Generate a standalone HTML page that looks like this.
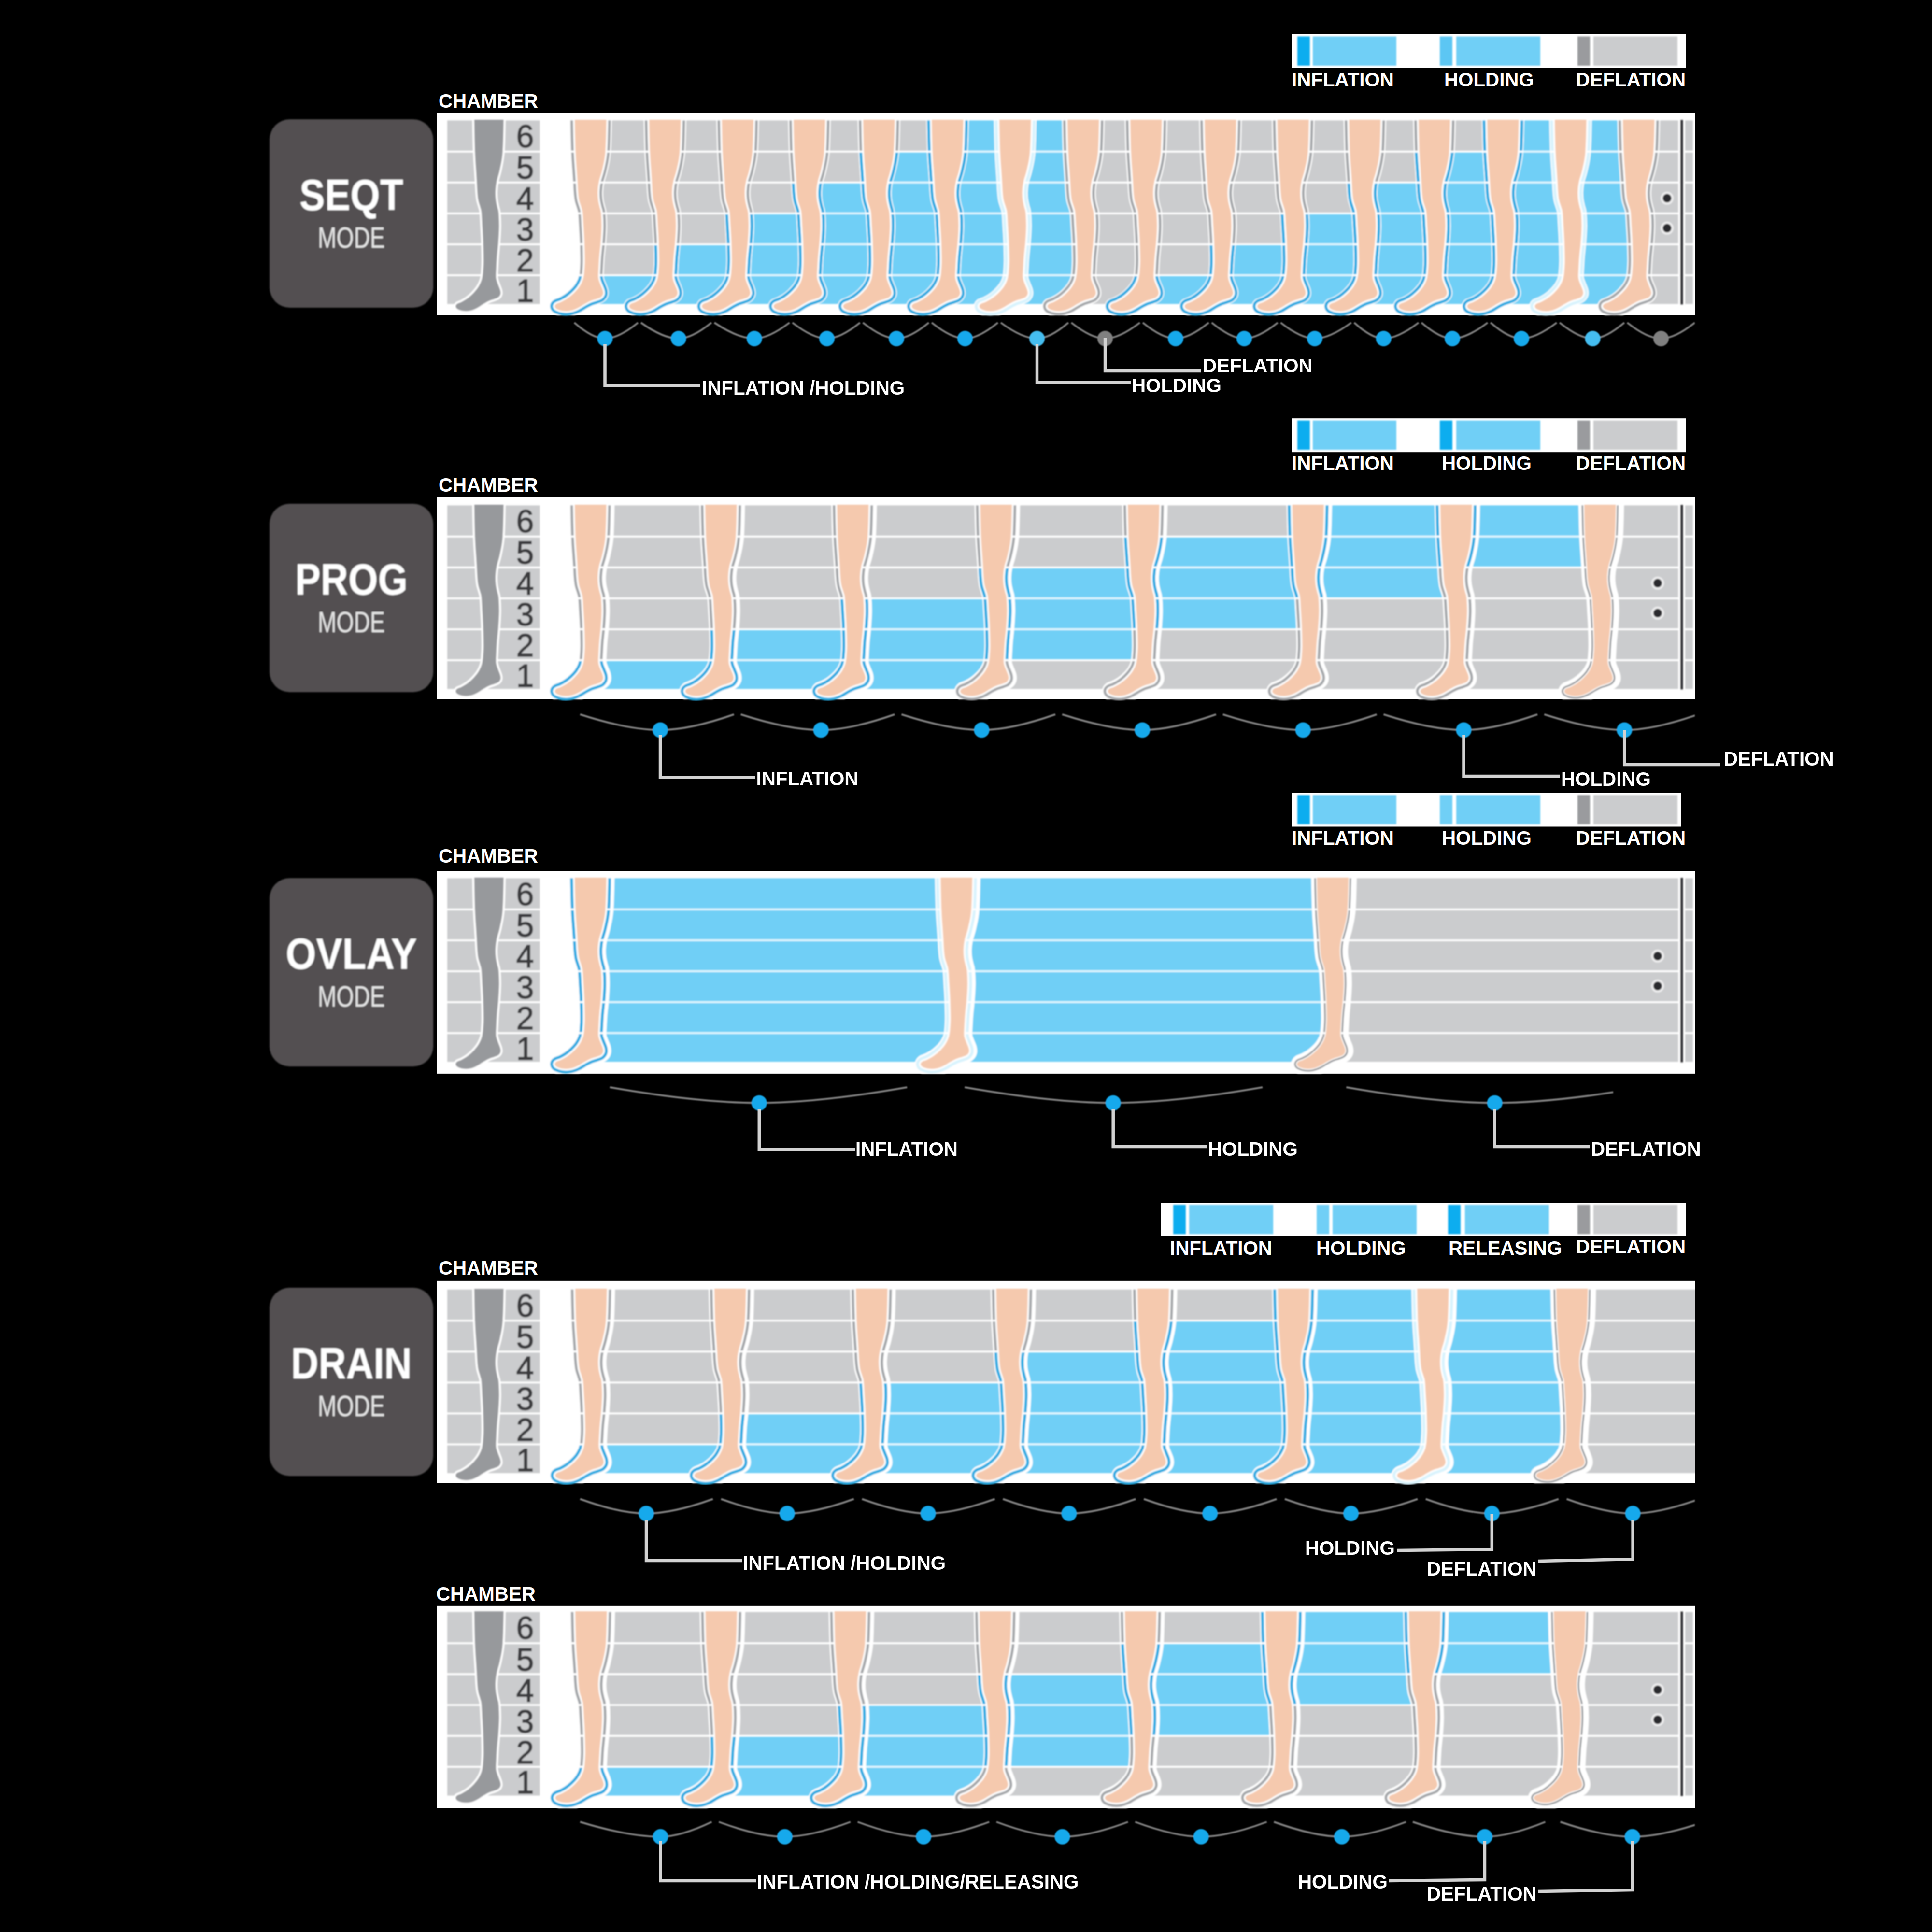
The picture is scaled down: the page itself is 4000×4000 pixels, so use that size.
<!DOCTYPE html>
<html lang="en"><head><meta charset="utf-8"><title>Compression modes</title>
<style>
html,body{margin:0;padding:0;background:#000;}
body{width:4000px;height:4000px;overflow:hidden;}
svg{display:block;}
text{font-family:"Liberation Sans",Arial,Helvetica,sans-serif;}
.lb{font-weight:700;font-size:40.3px;fill:#fff;}
.num{font-size:66px;fill:#3a3a3c;stroke:#3a3a3c;stroke-width:1.3px;text-anchor:middle;}
.big{font-weight:700;font-size:90px;fill:#fff;}
.mode{font-size:62px;fill:#e6e6e6;}
</style></head><body>
<svg width="4000" height="4000" viewBox="0 0 4000 4000">
<defs>
<path id="leg" d="M0.0 -40.0 L0.0 0.0C0.3 16.2 1.0 49.8 1.7 67.0C2.4 84.2 3.3 92.8 4.0 103.0C4.7 113.2 5.2 120.5 5.7 128.0C6.2 135.5 6.3 141.7 6.8 148.0C7.3 154.3 7.8 160.5 8.9 166.0C10.0 171.5 12.3 176.7 13.5 181.0C14.7 185.3 15.4 185.3 16.2 192.0C16.9 198.7 17.4 210.8 18.0 221.0C18.6 231.2 19.4 241.0 19.8 253.0C20.2 265.0 20.8 282.7 20.7 293.0C20.6 303.3 19.9 309.5 19.5 315.0C19.1 320.5 18.8 322.4 18.0 326.0C17.2 329.6 16.4 332.8 14.6 336.5C12.8 340.2 10.5 344.5 7.5 348.5C4.5 352.5 0.4 356.8 -3.5 360.5C-7.4 364.2 -11.8 367.7 -16.0 370.5C-20.2 373.3 -24.8 375.7 -28.5 377.5C-32.2 379.3 -36.4 379.9 -38.5 381.5C-40.6 383.1 -41.5 385.1 -41.3 386.8C-41.0 388.6 -39.8 390.5 -37.0 392.0C-34.2 393.5 -29.2 395.2 -24.5 395.8C-19.8 396.4 -14.1 396.3 -9.0 395.3C-3.9 394.3 0.9 392.4 5.9 390.0C10.9 387.6 16.2 383.7 20.8 381.2C25.4 378.7 29.1 376.7 33.2 375.0C37.3 373.3 42.1 372.3 45.6 371.0C49.1 369.7 52.4 368.7 54.5 367.0C56.6 365.3 57.9 363.2 58.5 361.0C59.1 358.8 58.8 356.7 58.0 353.5C57.2 350.3 54.8 345.4 53.5 342.0C52.2 338.6 50.8 335.8 50.0 333.0C49.2 330.2 48.7 328.7 48.5 325.0C48.3 321.3 48.6 317.8 49.0 311.0C49.4 304.2 49.8 293.7 50.6 284.0C51.4 274.3 52.9 263.5 53.7 253.0C54.5 242.5 55.4 231.2 55.5 221.0C55.6 210.8 54.9 198.7 54.2 192.0C53.5 185.3 52.5 185.3 51.5 181.0C50.5 176.7 49.0 171.5 48.3 166.0C47.6 160.5 47.2 154.3 47.5 148.0C47.8 141.7 48.4 135.5 50.0 128.0C51.6 120.5 54.8 113.2 57.0 103.0C59.2 92.8 61.9 84.2 63.3 67.0C64.7 49.8 65.1 16.2 65.5 0.0L65.5 -40.0 Z"/>
<filter id="soft" x="-2%" y="-5%" width="104%" height="110%"><feGaussianBlur stdDeviation="1.4"/></filter>
<filter id="soft2" x="-2%" y="-40%" width="104%" height="180%"><feGaussianBlur stdDeviation="1.2"/></filter>
<clipPath id="legtop"><rect x="-120" y="0" width="300" height="440"/></clipPath>
<clipPath id="pclip"><rect x="0" y="0" width="2605" height="422"/></clipPath>
<clipPath id="r6"><rect x="-120" y="1.5" width="300" height="62.5"/></clipPath>
<clipPath id="r5"><rect x="-120" y="68.0" width="300" height="60.0"/></clipPath>
<clipPath id="r4"><rect x="-120" y="132.0" width="300" height="60.0"/></clipPath>
<clipPath id="r3"><rect x="-120" y="196.0" width="300" height="60.0"/></clipPath>
<clipPath id="r2"><rect x="-120" y="260.0" width="300" height="60.0"/></clipPath>
<clipPath id="r1"><rect x="-120" y="324.0" width="300" height="100.0"/></clipPath>
</defs>
<rect width="4000" height="4000" fill="#000"/>
<clipPath id="pagec"><rect x="0" y="0" width="3509" height="4000"/></clipPath><clipPath id="pagec3"><rect x="0" y="0" width="3340" height="4000"/></clipPath>
<rect x="2674" y="71.0" width="816" height="70" fill="#fff"/>
<g filter="url(#soft)">
<rect x="2686.0" y="75.5" width="26" height="60.5" fill="#0cadef"/>
<rect x="2718.0" y="75.5" width="173.0" height="60.5" fill="#70cff6"/>
<rect x="2981.0" y="75.5" width="26" height="60.5" fill="#5cc6f3"/>
<rect x="3015.0" y="75.5" width="174.0" height="60.5" fill="#70cff6"/>
<rect x="3266.0" y="75.5" width="26" height="60.5" fill="#9a9b9e"/>
<rect x="3299.0" y="75.5" width="174.0" height="60.5" fill="#cbccce"/>
</g>
<text class="lb" x="2674.0" y="179.0" text-anchor="start">INFLATION</text>
<text class="lb" x="2990.0" y="179.0" text-anchor="start">HOLDING</text>
<text class="lb" x="3490.0" y="179.0" text-anchor="end">DEFLATION</text>
<text class="lb" x="908.0" y="223.0" text-anchor="start">CHAMBER</text>
<g filter="url(#soft)">
<rect x="558" y="247" width="339" height="390" rx="42" fill="#525051"/>
<text class="big" x="727.5" y="435" text-anchor="middle" textLength="215" lengthAdjust="spacingAndGlyphs">SEQT</text>
<text class="mode" x="727.5" y="513" text-anchor="middle" textLength="139" lengthAdjust="spacingAndGlyphs">MODE</text>
</g>
<g transform="translate(904,233.85)">
<rect width="2605" height="419" fill="#fff"/>
<clipPath id="h1"><rect x="-120" y="0" width="300" height="405.0"/></clipPath>
<g clip-path="url(#pclip)"><g filter="url(#soft)"><g transform="translate(0,-2.0)">
<rect x="22" y="17.5" width="191.5" height="62.5" fill="#cbccce"/>
<rect x="22" y="84.0" width="191.5" height="60.0" fill="#cbccce"/>
<rect x="22" y="148.0" width="191.5" height="60.0" fill="#cbccce"/>
<rect x="22" y="212.0" width="191.5" height="60.0" fill="#cbccce"/>
<rect x="22" y="276.0" width="191.5" height="60.0" fill="#cbccce"/>
<rect x="22" y="340.0" width="191.5" height="57.5" fill="#cbccce"/>
<g transform="translate(75.5,16.0)"><g clip-path="url(#legtop)">
<g transform="translate(33,0) scale(0.93,1) translate(-33,0)"><use href="#leg" fill="#97999c" stroke="#fff" stroke-width="9" paint-order="stroke"/></g>
</g></g>
<text class="num" x="183" y="73.2">6</text>
<text class="num" x="183" y="138.5">5</text>
<text class="num" x="183" y="202.5">4</text>
<text class="num" x="183" y="266.5">3</text>
<text class="num" x="183" y="330.5">2</text>
<text class="num" x="183" y="393.2">1</text>
<rect x="316.0" y="17.5" width="154.0" height="62.5" fill="#cbccce"/>
<rect x="316.0" y="84.0" width="154.0" height="60.0" fill="#cbccce"/>
<rect x="316.0" y="148.0" width="154.0" height="60.0" fill="#cbccce"/>
<rect x="316.0" y="212.0" width="154.0" height="60.0" fill="#cbccce"/>
<rect x="316.0" y="276.0" width="154.0" height="60.0" fill="#cbccce"/>
<rect x="316.0" y="340.0" width="154.0" height="57.5" fill="#70cff6"/>
<rect x="470.0" y="17.5" width="150.5" height="62.5" fill="#cbccce"/>
<rect x="470.0" y="84.0" width="150.5" height="60.0" fill="#cbccce"/>
<rect x="470.0" y="148.0" width="150.5" height="60.0" fill="#cbccce"/>
<rect x="470.0" y="212.0" width="150.5" height="60.0" fill="#cbccce"/>
<rect x="470.0" y="276.0" width="150.5" height="60.0" fill="#70cff6"/>
<rect x="470.0" y="336.0" width="150.5" height="4.0" fill="#e0f6fe"/>
<rect x="470.0" y="340.0" width="150.5" height="57.5" fill="#70cff6"/>
<rect x="620.5" y="17.5" width="148.5" height="62.5" fill="#cbccce"/>
<rect x="620.5" y="84.0" width="148.5" height="60.0" fill="#cbccce"/>
<rect x="620.5" y="148.0" width="148.5" height="60.0" fill="#cbccce"/>
<rect x="620.5" y="212.0" width="148.5" height="60.0" fill="#70cff6"/>
<rect x="620.5" y="272.0" width="148.5" height="4.0" fill="#e0f6fe"/>
<rect x="620.5" y="276.0" width="148.5" height="60.0" fill="#70cff6"/>
<rect x="620.5" y="336.0" width="148.5" height="4.0" fill="#e0f6fe"/>
<rect x="620.5" y="340.0" width="148.5" height="57.5" fill="#70cff6"/>
<rect x="769.0" y="17.5" width="144.0" height="62.5" fill="#cbccce"/>
<rect x="769.0" y="84.0" width="144.0" height="60.0" fill="#cbccce"/>
<rect x="769.0" y="148.0" width="144.0" height="60.0" fill="#70cff6"/>
<rect x="769.0" y="208.0" width="144.0" height="4.0" fill="#e0f6fe"/>
<rect x="769.0" y="212.0" width="144.0" height="60.0" fill="#70cff6"/>
<rect x="769.0" y="272.0" width="144.0" height="4.0" fill="#e0f6fe"/>
<rect x="769.0" y="276.0" width="144.0" height="60.0" fill="#70cff6"/>
<rect x="769.0" y="336.0" width="144.0" height="4.0" fill="#e0f6fe"/>
<rect x="769.0" y="340.0" width="144.0" height="57.5" fill="#70cff6"/>
<rect x="913.0" y="17.5" width="142.0" height="62.5" fill="#cbccce"/>
<rect x="913.0" y="84.0" width="142.0" height="60.0" fill="#70cff6"/>
<rect x="913.0" y="144.0" width="142.0" height="4.0" fill="#e0f6fe"/>
<rect x="913.0" y="148.0" width="142.0" height="60.0" fill="#70cff6"/>
<rect x="913.0" y="208.0" width="142.0" height="4.0" fill="#e0f6fe"/>
<rect x="913.0" y="212.0" width="142.0" height="60.0" fill="#70cff6"/>
<rect x="913.0" y="272.0" width="142.0" height="4.0" fill="#e0f6fe"/>
<rect x="913.0" y="276.0" width="142.0" height="60.0" fill="#70cff6"/>
<rect x="913.0" y="336.0" width="142.0" height="4.0" fill="#e0f6fe"/>
<rect x="913.0" y="340.0" width="142.0" height="57.5" fill="#70cff6"/>
<rect x="1055.0" y="17.5" width="140.0" height="62.5" fill="#70cff6"/>
<rect x="1055.0" y="80.0" width="140.0" height="4.0" fill="#e0f6fe"/>
<rect x="1055.0" y="84.0" width="140.0" height="60.0" fill="#70cff6"/>
<rect x="1055.0" y="144.0" width="140.0" height="4.0" fill="#e0f6fe"/>
<rect x="1055.0" y="148.0" width="140.0" height="60.0" fill="#70cff6"/>
<rect x="1055.0" y="208.0" width="140.0" height="4.0" fill="#e0f6fe"/>
<rect x="1055.0" y="212.0" width="140.0" height="60.0" fill="#70cff6"/>
<rect x="1055.0" y="272.0" width="140.0" height="4.0" fill="#e0f6fe"/>
<rect x="1055.0" y="276.0" width="140.0" height="60.0" fill="#70cff6"/>
<rect x="1055.0" y="336.0" width="140.0" height="4.0" fill="#e0f6fe"/>
<rect x="1055.0" y="340.0" width="140.0" height="57.5" fill="#70cff6"/>
<rect x="1195.0" y="17.5" width="141.0" height="62.5" fill="#70cff6"/>
<rect x="1195.0" y="80.0" width="141.0" height="4.0" fill="#e0f6fe"/>
<rect x="1195.0" y="84.0" width="141.0" height="60.0" fill="#70cff6"/>
<rect x="1195.0" y="144.0" width="141.0" height="4.0" fill="#e0f6fe"/>
<rect x="1195.0" y="148.0" width="141.0" height="60.0" fill="#70cff6"/>
<rect x="1195.0" y="208.0" width="141.0" height="4.0" fill="#e0f6fe"/>
<rect x="1195.0" y="212.0" width="141.0" height="60.0" fill="#70cff6"/>
<rect x="1195.0" y="272.0" width="141.0" height="4.0" fill="#e0f6fe"/>
<rect x="1195.0" y="276.0" width="141.0" height="60.0" fill="#70cff6"/>
<rect x="1195.0" y="336.0" width="141.0" height="4.0" fill="#e0f6fe"/>
<rect x="1195.0" y="340.0" width="141.0" height="57.5" fill="#70cff6"/>
<rect x="1336.0" y="17.5" width="130.0" height="62.5" fill="#cbccce"/>
<rect x="1336.0" y="84.0" width="130.0" height="60.0" fill="#cbccce"/>
<rect x="1336.0" y="148.0" width="130.0" height="60.0" fill="#cbccce"/>
<rect x="1336.0" y="212.0" width="130.0" height="60.0" fill="#cbccce"/>
<rect x="1336.0" y="276.0" width="130.0" height="60.0" fill="#cbccce"/>
<rect x="1336.0" y="340.0" width="130.0" height="57.5" fill="#cbccce"/>
<rect x="1466.0" y="17.5" width="154.0" height="62.5" fill="#cbccce"/>
<rect x="1466.0" y="84.0" width="154.0" height="60.0" fill="#cbccce"/>
<rect x="1466.0" y="148.0" width="154.0" height="60.0" fill="#cbccce"/>
<rect x="1466.0" y="212.0" width="154.0" height="60.0" fill="#cbccce"/>
<rect x="1466.0" y="276.0" width="154.0" height="60.0" fill="#cbccce"/>
<rect x="1466.0" y="340.0" width="154.0" height="57.5" fill="#70cff6"/>
<rect x="1620.0" y="17.5" width="150.5" height="62.5" fill="#cbccce"/>
<rect x="1620.0" y="84.0" width="150.5" height="60.0" fill="#cbccce"/>
<rect x="1620.0" y="148.0" width="150.5" height="60.0" fill="#cbccce"/>
<rect x="1620.0" y="212.0" width="150.5" height="60.0" fill="#cbccce"/>
<rect x="1620.0" y="276.0" width="150.5" height="60.0" fill="#70cff6"/>
<rect x="1620.0" y="336.0" width="150.5" height="4.0" fill="#e0f6fe"/>
<rect x="1620.0" y="340.0" width="150.5" height="57.5" fill="#70cff6"/>
<rect x="1770.5" y="17.5" width="148.5" height="62.5" fill="#cbccce"/>
<rect x="1770.5" y="84.0" width="148.5" height="60.0" fill="#cbccce"/>
<rect x="1770.5" y="148.0" width="148.5" height="60.0" fill="#cbccce"/>
<rect x="1770.5" y="212.0" width="148.5" height="60.0" fill="#70cff6"/>
<rect x="1770.5" y="272.0" width="148.5" height="4.0" fill="#e0f6fe"/>
<rect x="1770.5" y="276.0" width="148.5" height="60.0" fill="#70cff6"/>
<rect x="1770.5" y="336.0" width="148.5" height="4.0" fill="#e0f6fe"/>
<rect x="1770.5" y="340.0" width="148.5" height="57.5" fill="#70cff6"/>
<rect x="1919.0" y="17.5" width="144.0" height="62.5" fill="#cbccce"/>
<rect x="1919.0" y="84.0" width="144.0" height="60.0" fill="#cbccce"/>
<rect x="1919.0" y="148.0" width="144.0" height="60.0" fill="#70cff6"/>
<rect x="1919.0" y="208.0" width="144.0" height="4.0" fill="#e0f6fe"/>
<rect x="1919.0" y="212.0" width="144.0" height="60.0" fill="#70cff6"/>
<rect x="1919.0" y="272.0" width="144.0" height="4.0" fill="#e0f6fe"/>
<rect x="1919.0" y="276.0" width="144.0" height="60.0" fill="#70cff6"/>
<rect x="1919.0" y="336.0" width="144.0" height="4.0" fill="#e0f6fe"/>
<rect x="1919.0" y="340.0" width="144.0" height="57.5" fill="#70cff6"/>
<rect x="2063.0" y="17.5" width="142.0" height="62.5" fill="#cbccce"/>
<rect x="2063.0" y="84.0" width="142.0" height="60.0" fill="#70cff6"/>
<rect x="2063.0" y="144.0" width="142.0" height="4.0" fill="#e0f6fe"/>
<rect x="2063.0" y="148.0" width="142.0" height="60.0" fill="#70cff6"/>
<rect x="2063.0" y="208.0" width="142.0" height="4.0" fill="#e0f6fe"/>
<rect x="2063.0" y="212.0" width="142.0" height="60.0" fill="#70cff6"/>
<rect x="2063.0" y="272.0" width="142.0" height="4.0" fill="#e0f6fe"/>
<rect x="2063.0" y="276.0" width="142.0" height="60.0" fill="#70cff6"/>
<rect x="2063.0" y="336.0" width="142.0" height="4.0" fill="#e0f6fe"/>
<rect x="2063.0" y="340.0" width="142.0" height="57.5" fill="#70cff6"/>
<rect x="2205.0" y="17.5" width="140.0" height="62.5" fill="#70cff6"/>
<rect x="2205.0" y="80.0" width="140.0" height="4.0" fill="#e0f6fe"/>
<rect x="2205.0" y="84.0" width="140.0" height="60.0" fill="#70cff6"/>
<rect x="2205.0" y="144.0" width="140.0" height="4.0" fill="#e0f6fe"/>
<rect x="2205.0" y="148.0" width="140.0" height="60.0" fill="#70cff6"/>
<rect x="2205.0" y="208.0" width="140.0" height="4.0" fill="#e0f6fe"/>
<rect x="2205.0" y="212.0" width="140.0" height="60.0" fill="#70cff6"/>
<rect x="2205.0" y="272.0" width="140.0" height="4.0" fill="#e0f6fe"/>
<rect x="2205.0" y="276.0" width="140.0" height="60.0" fill="#70cff6"/>
<rect x="2205.0" y="336.0" width="140.0" height="4.0" fill="#e0f6fe"/>
<rect x="2205.0" y="340.0" width="140.0" height="57.5" fill="#70cff6"/>
<rect x="2345.0" y="17.5" width="141.0" height="62.5" fill="#70cff6"/>
<rect x="2345.0" y="80.0" width="141.0" height="4.0" fill="#e0f6fe"/>
<rect x="2345.0" y="84.0" width="141.0" height="60.0" fill="#70cff6"/>
<rect x="2345.0" y="144.0" width="141.0" height="4.0" fill="#e0f6fe"/>
<rect x="2345.0" y="148.0" width="141.0" height="60.0" fill="#70cff6"/>
<rect x="2345.0" y="208.0" width="141.0" height="4.0" fill="#e0f6fe"/>
<rect x="2345.0" y="212.0" width="141.0" height="60.0" fill="#70cff6"/>
<rect x="2345.0" y="272.0" width="141.0" height="4.0" fill="#e0f6fe"/>
<rect x="2345.0" y="276.0" width="141.0" height="60.0" fill="#70cff6"/>
<rect x="2345.0" y="336.0" width="141.0" height="4.0" fill="#e0f6fe"/>
<rect x="2345.0" y="340.0" width="141.0" height="57.5" fill="#70cff6"/>
<rect x="2486.0" y="17.5" width="84.5" height="62.5" fill="#cbccce"/>
<rect x="2486.0" y="84.0" width="84.5" height="60.0" fill="#cbccce"/>
<rect x="2486.0" y="148.0" width="84.5" height="60.0" fill="#cbccce"/>
<rect x="2486.0" y="212.0" width="84.5" height="60.0" fill="#cbccce"/>
<rect x="2486.0" y="276.0" width="84.5" height="60.0" fill="#cbccce"/>
<rect x="2486.0" y="340.0" width="84.5" height="57.5" fill="#cbccce"/>
<rect x="2575.5" y="16.5" width="5" height="382.0" fill="#2b2b2d"/>
<rect x="2585" y="17.5" width="16" height="62.5" fill="#cbccce"/>
<rect x="2585" y="84.0" width="16" height="60.0" fill="#cbccce"/>
<rect x="2585" y="148.0" width="16" height="60.0" fill="#cbccce"/>
<rect x="2585" y="212.0" width="16" height="60.0" fill="#cbccce"/>
<rect x="2585" y="276.0" width="16" height="60.0" fill="#cbccce"/>
<rect x="2585" y="340.0" width="16" height="57.5" fill="#cbccce"/>
<circle cx="2547.5" cy="178.5" r="13.5" fill="#ededee"/><circle cx="2547.5" cy="178.5" r="9" fill="#2b2b2d"/>
<circle cx="2547.5" cy="240.5" r="13.5" fill="#ededee"/><circle cx="2547.5" cy="240.5" r="9" fill="#2b2b2d"/>
<g transform="translate(286.0,16.0)"><g clip-path="url(#legtop)">
<use href="#leg" fill="#fff" stroke="#fff" stroke-width="23" clip-path="url(#h1)"/>
<use href="#leg" fill="none" stroke="#a3a5a8" stroke-width="18" clip-path="url(#r6)"/>
<use href="#leg" fill="none" stroke="#a3a5a8" stroke-width="18" clip-path="url(#r5)"/>
<use href="#leg" fill="none" stroke="#a3a5a8" stroke-width="18" clip-path="url(#r4)"/>
<use href="#leg" fill="none" stroke="#a3a5a8" stroke-width="18" clip-path="url(#r3)"/>
<use href="#leg" fill="none" stroke="#a3a5a8" stroke-width="18" clip-path="url(#r2)"/>
<use href="#leg" fill="none" stroke="#27aae1" stroke-width="19" clip-path="url(#r1)"/>
<use href="#leg" fill="none" stroke="#fff" stroke-width="7.5"/>
<use href="#leg" fill="#f5c9ae"/>
</g></g>
<g transform="translate(440.0,16.0)"><g clip-path="url(#legtop)">
<use href="#leg" fill="#fff" stroke="#fff" stroke-width="23" clip-path="url(#h1)"/>
<use href="#leg" fill="none" stroke="#a3a5a8" stroke-width="18" clip-path="url(#r6)"/>
<use href="#leg" fill="none" stroke="#a3a5a8" stroke-width="18" clip-path="url(#r5)"/>
<use href="#leg" fill="none" stroke="#a3a5a8" stroke-width="18" clip-path="url(#r4)"/>
<use href="#leg" fill="none" stroke="#a3a5a8" stroke-width="18" clip-path="url(#r3)"/>
<use href="#leg" fill="none" stroke="#27aae1" stroke-width="19" clip-path="url(#r2)"/>
<use href="#leg" fill="none" stroke="#27aae1" stroke-width="19" clip-path="url(#r1)"/>
<use href="#leg" fill="none" stroke="#fff" stroke-width="7.5"/>
<use href="#leg" fill="#f5c9ae"/>
</g></g>
<g transform="translate(590.5,16.0)"><g clip-path="url(#legtop)">
<use href="#leg" fill="#fff" stroke="#fff" stroke-width="23" clip-path="url(#h1)"/>
<use href="#leg" fill="none" stroke="#a3a5a8" stroke-width="18" clip-path="url(#r6)"/>
<use href="#leg" fill="none" stroke="#a3a5a8" stroke-width="18" clip-path="url(#r5)"/>
<use href="#leg" fill="none" stroke="#a3a5a8" stroke-width="18" clip-path="url(#r4)"/>
<use href="#leg" fill="none" stroke="#27aae1" stroke-width="19" clip-path="url(#r3)"/>
<use href="#leg" fill="none" stroke="#27aae1" stroke-width="19" clip-path="url(#r2)"/>
<use href="#leg" fill="none" stroke="#27aae1" stroke-width="19" clip-path="url(#r1)"/>
<use href="#leg" fill="none" stroke="#fff" stroke-width="7.5"/>
<use href="#leg" fill="#f5c9ae"/>
</g></g>
<g transform="translate(739.0,16.0)"><g clip-path="url(#legtop)">
<use href="#leg" fill="#fff" stroke="#fff" stroke-width="23" clip-path="url(#h1)"/>
<use href="#leg" fill="none" stroke="#a3a5a8" stroke-width="18" clip-path="url(#r6)"/>
<use href="#leg" fill="none" stroke="#a3a5a8" stroke-width="18" clip-path="url(#r5)"/>
<use href="#leg" fill="none" stroke="#27aae1" stroke-width="19" clip-path="url(#r4)"/>
<use href="#leg" fill="none" stroke="#27aae1" stroke-width="19" clip-path="url(#r3)"/>
<use href="#leg" fill="none" stroke="#27aae1" stroke-width="19" clip-path="url(#r2)"/>
<use href="#leg" fill="none" stroke="#27aae1" stroke-width="19" clip-path="url(#r1)"/>
<use href="#leg" fill="none" stroke="#fff" stroke-width="7.5"/>
<use href="#leg" fill="#f5c9ae"/>
</g></g>
<g transform="translate(883.0,16.0)"><g clip-path="url(#legtop)">
<use href="#leg" fill="#fff" stroke="#fff" stroke-width="23" clip-path="url(#h1)"/>
<use href="#leg" fill="none" stroke="#a3a5a8" stroke-width="18" clip-path="url(#r6)"/>
<use href="#leg" fill="none" stroke="#27aae1" stroke-width="19" clip-path="url(#r5)"/>
<use href="#leg" fill="none" stroke="#27aae1" stroke-width="19" clip-path="url(#r4)"/>
<use href="#leg" fill="none" stroke="#27aae1" stroke-width="19" clip-path="url(#r3)"/>
<use href="#leg" fill="none" stroke="#27aae1" stroke-width="19" clip-path="url(#r2)"/>
<use href="#leg" fill="none" stroke="#27aae1" stroke-width="19" clip-path="url(#r1)"/>
<use href="#leg" fill="none" stroke="#fff" stroke-width="7.5"/>
<use href="#leg" fill="#f5c9ae"/>
</g></g>
<g transform="translate(1025.0,16.0)"><g clip-path="url(#legtop)">
<use href="#leg" fill="#fff" stroke="#fff" stroke-width="23" clip-path="url(#h1)"/>
<use href="#leg" fill="none" stroke="#27aae1" stroke-width="19" clip-path="url(#r6)"/>
<use href="#leg" fill="none" stroke="#27aae1" stroke-width="19" clip-path="url(#r5)"/>
<use href="#leg" fill="none" stroke="#27aae1" stroke-width="19" clip-path="url(#r4)"/>
<use href="#leg" fill="none" stroke="#27aae1" stroke-width="19" clip-path="url(#r3)"/>
<use href="#leg" fill="none" stroke="#27aae1" stroke-width="19" clip-path="url(#r2)"/>
<use href="#leg" fill="none" stroke="#27aae1" stroke-width="19" clip-path="url(#r1)"/>
<use href="#leg" fill="none" stroke="#fff" stroke-width="7.5"/>
<use href="#leg" fill="#f5c9ae"/>
</g></g>
<g transform="translate(1165.0,16.0)"><g clip-path="url(#legtop)">
<use href="#leg" fill="#fff" stroke="#fff" stroke-width="23" clip-path="url(#h1)"/>
<use href="#leg" fill="none" stroke="#d8f3fd" stroke-width="19" clip-path="url(#r6)"/>
<use href="#leg" fill="none" stroke="#d8f3fd" stroke-width="19" clip-path="url(#r5)"/>
<use href="#leg" fill="none" stroke="#d8f3fd" stroke-width="19" clip-path="url(#r4)"/>
<use href="#leg" fill="none" stroke="#d8f3fd" stroke-width="19" clip-path="url(#r3)"/>
<use href="#leg" fill="none" stroke="#d8f3fd" stroke-width="19" clip-path="url(#r2)"/>
<use href="#leg" fill="none" stroke="#d8f3fd" stroke-width="19" clip-path="url(#r1)"/>
<use href="#leg" fill="none" stroke="#fff" stroke-width="7.5"/>
<use href="#leg" fill="#f5c9ae"/>
</g></g>
<g transform="translate(1306.0,16.0)"><g clip-path="url(#legtop)">
<use href="#leg" fill="#fff" stroke="#fff" stroke-width="23" clip-path="url(#h1)"/>
<use href="#leg" fill="none" stroke="#a3a5a8" stroke-width="18" clip-path="url(#r6)"/>
<use href="#leg" fill="none" stroke="#a3a5a8" stroke-width="18" clip-path="url(#r5)"/>
<use href="#leg" fill="none" stroke="#a3a5a8" stroke-width="18" clip-path="url(#r4)"/>
<use href="#leg" fill="none" stroke="#a3a5a8" stroke-width="18" clip-path="url(#r3)"/>
<use href="#leg" fill="none" stroke="#a3a5a8" stroke-width="18" clip-path="url(#r2)"/>
<use href="#leg" fill="none" stroke="#a3a5a8" stroke-width="18" clip-path="url(#r1)"/>
<use href="#leg" fill="none" stroke="#fff" stroke-width="7.5"/>
<use href="#leg" fill="#f5c9ae"/>
</g></g>
<g transform="translate(1436.0,16.0)"><g clip-path="url(#legtop)">
<use href="#leg" fill="#fff" stroke="#fff" stroke-width="23" clip-path="url(#h1)"/>
<use href="#leg" fill="none" stroke="#a3a5a8" stroke-width="18" clip-path="url(#r6)"/>
<use href="#leg" fill="none" stroke="#a3a5a8" stroke-width="18" clip-path="url(#r5)"/>
<use href="#leg" fill="none" stroke="#a3a5a8" stroke-width="18" clip-path="url(#r4)"/>
<use href="#leg" fill="none" stroke="#a3a5a8" stroke-width="18" clip-path="url(#r3)"/>
<use href="#leg" fill="none" stroke="#a3a5a8" stroke-width="18" clip-path="url(#r2)"/>
<use href="#leg" fill="none" stroke="#27aae1" stroke-width="19" clip-path="url(#r1)"/>
<use href="#leg" fill="none" stroke="#fff" stroke-width="7.5"/>
<use href="#leg" fill="#f5c9ae"/>
</g></g>
<g transform="translate(1590.0,16.0)"><g clip-path="url(#legtop)">
<use href="#leg" fill="#fff" stroke="#fff" stroke-width="23" clip-path="url(#h1)"/>
<use href="#leg" fill="none" stroke="#a3a5a8" stroke-width="18" clip-path="url(#r6)"/>
<use href="#leg" fill="none" stroke="#a3a5a8" stroke-width="18" clip-path="url(#r5)"/>
<use href="#leg" fill="none" stroke="#a3a5a8" stroke-width="18" clip-path="url(#r4)"/>
<use href="#leg" fill="none" stroke="#a3a5a8" stroke-width="18" clip-path="url(#r3)"/>
<use href="#leg" fill="none" stroke="#27aae1" stroke-width="19" clip-path="url(#r2)"/>
<use href="#leg" fill="none" stroke="#27aae1" stroke-width="19" clip-path="url(#r1)"/>
<use href="#leg" fill="none" stroke="#fff" stroke-width="7.5"/>
<use href="#leg" fill="#f5c9ae"/>
</g></g>
<g transform="translate(1740.5,16.0)"><g clip-path="url(#legtop)">
<use href="#leg" fill="#fff" stroke="#fff" stroke-width="23" clip-path="url(#h1)"/>
<use href="#leg" fill="none" stroke="#a3a5a8" stroke-width="18" clip-path="url(#r6)"/>
<use href="#leg" fill="none" stroke="#a3a5a8" stroke-width="18" clip-path="url(#r5)"/>
<use href="#leg" fill="none" stroke="#a3a5a8" stroke-width="18" clip-path="url(#r4)"/>
<use href="#leg" fill="none" stroke="#27aae1" stroke-width="19" clip-path="url(#r3)"/>
<use href="#leg" fill="none" stroke="#27aae1" stroke-width="19" clip-path="url(#r2)"/>
<use href="#leg" fill="none" stroke="#27aae1" stroke-width="19" clip-path="url(#r1)"/>
<use href="#leg" fill="none" stroke="#fff" stroke-width="7.5"/>
<use href="#leg" fill="#f5c9ae"/>
</g></g>
<g transform="translate(1889.0,16.0)"><g clip-path="url(#legtop)">
<use href="#leg" fill="#fff" stroke="#fff" stroke-width="23" clip-path="url(#h1)"/>
<use href="#leg" fill="none" stroke="#a3a5a8" stroke-width="18" clip-path="url(#r6)"/>
<use href="#leg" fill="none" stroke="#a3a5a8" stroke-width="18" clip-path="url(#r5)"/>
<use href="#leg" fill="none" stroke="#27aae1" stroke-width="19" clip-path="url(#r4)"/>
<use href="#leg" fill="none" stroke="#27aae1" stroke-width="19" clip-path="url(#r3)"/>
<use href="#leg" fill="none" stroke="#27aae1" stroke-width="19" clip-path="url(#r2)"/>
<use href="#leg" fill="none" stroke="#27aae1" stroke-width="19" clip-path="url(#r1)"/>
<use href="#leg" fill="none" stroke="#fff" stroke-width="7.5"/>
<use href="#leg" fill="#f5c9ae"/>
</g></g>
<g transform="translate(2033.0,16.0)"><g clip-path="url(#legtop)">
<use href="#leg" fill="#fff" stroke="#fff" stroke-width="23" clip-path="url(#h1)"/>
<use href="#leg" fill="none" stroke="#a3a5a8" stroke-width="18" clip-path="url(#r6)"/>
<use href="#leg" fill="none" stroke="#27aae1" stroke-width="19" clip-path="url(#r5)"/>
<use href="#leg" fill="none" stroke="#27aae1" stroke-width="19" clip-path="url(#r4)"/>
<use href="#leg" fill="none" stroke="#27aae1" stroke-width="19" clip-path="url(#r3)"/>
<use href="#leg" fill="none" stroke="#27aae1" stroke-width="19" clip-path="url(#r2)"/>
<use href="#leg" fill="none" stroke="#27aae1" stroke-width="19" clip-path="url(#r1)"/>
<use href="#leg" fill="none" stroke="#fff" stroke-width="7.5"/>
<use href="#leg" fill="#f5c9ae"/>
</g></g>
<g transform="translate(2175.0,16.0)"><g clip-path="url(#legtop)">
<use href="#leg" fill="#fff" stroke="#fff" stroke-width="23" clip-path="url(#h1)"/>
<use href="#leg" fill="none" stroke="#27aae1" stroke-width="19" clip-path="url(#r6)"/>
<use href="#leg" fill="none" stroke="#27aae1" stroke-width="19" clip-path="url(#r5)"/>
<use href="#leg" fill="none" stroke="#27aae1" stroke-width="19" clip-path="url(#r4)"/>
<use href="#leg" fill="none" stroke="#27aae1" stroke-width="19" clip-path="url(#r3)"/>
<use href="#leg" fill="none" stroke="#27aae1" stroke-width="19" clip-path="url(#r2)"/>
<use href="#leg" fill="none" stroke="#27aae1" stroke-width="19" clip-path="url(#r1)"/>
<use href="#leg" fill="none" stroke="#fff" stroke-width="7.5"/>
<use href="#leg" fill="#f5c9ae"/>
</g></g>
<g transform="translate(2315.0,16.0)"><g clip-path="url(#legtop)">
<use href="#leg" fill="#fff" stroke="#fff" stroke-width="23" clip-path="url(#h1)"/>
<use href="#leg" fill="none" stroke="#d8f3fd" stroke-width="19" clip-path="url(#r6)"/>
<use href="#leg" fill="none" stroke="#d8f3fd" stroke-width="19" clip-path="url(#r5)"/>
<use href="#leg" fill="none" stroke="#d8f3fd" stroke-width="19" clip-path="url(#r4)"/>
<use href="#leg" fill="none" stroke="#d8f3fd" stroke-width="19" clip-path="url(#r3)"/>
<use href="#leg" fill="none" stroke="#d8f3fd" stroke-width="19" clip-path="url(#r2)"/>
<use href="#leg" fill="none" stroke="#d8f3fd" stroke-width="19" clip-path="url(#r1)"/>
<use href="#leg" fill="none" stroke="#fff" stroke-width="7.5"/>
<use href="#leg" fill="#f5c9ae"/>
</g></g>
<g transform="translate(2456.0,16.0)"><g clip-path="url(#legtop)">
<use href="#leg" fill="#fff" stroke="#fff" stroke-width="23" clip-path="url(#h1)"/>
<use href="#leg" fill="none" stroke="#a3a5a8" stroke-width="18" clip-path="url(#r6)"/>
<use href="#leg" fill="none" stroke="#a3a5a8" stroke-width="18" clip-path="url(#r5)"/>
<use href="#leg" fill="none" stroke="#a3a5a8" stroke-width="18" clip-path="url(#r4)"/>
<use href="#leg" fill="none" stroke="#a3a5a8" stroke-width="18" clip-path="url(#r3)"/>
<use href="#leg" fill="none" stroke="#a3a5a8" stroke-width="18" clip-path="url(#r2)"/>
<use href="#leg" fill="none" stroke="#a3a5a8" stroke-width="18" clip-path="url(#r1)"/>
<use href="#leg" fill="none" stroke="#fff" stroke-width="7.5"/>
<use href="#leg" fill="#f5c9ae"/>
</g></g>
</g></g></g>
</g>
<rect x="2674" y="866.2" width="816" height="70" fill="#fff"/>
<g filter="url(#soft)">
<rect x="2686.0" y="870.7" width="26" height="60.5" fill="#0cadef"/>
<rect x="2718.0" y="870.7" width="173.0" height="60.5" fill="#70cff6"/>
<rect x="2981.0" y="870.7" width="26" height="60.5" fill="#0cadef"/>
<rect x="3015.0" y="870.7" width="174.0" height="60.5" fill="#70cff6"/>
<rect x="3266.0" y="870.7" width="26" height="60.5" fill="#9a9b9e"/>
<rect x="3299.0" y="870.7" width="174.0" height="60.5" fill="#cbccce"/>
</g>
<text class="lb" x="2674.0" y="973.0" text-anchor="start">INFLATION</text>
<text class="lb" x="2985.0" y="973.0" text-anchor="start">HOLDING</text>
<text class="lb" x="3490.0" y="973.0" text-anchor="end">DEFLATION</text>
<text class="lb" x="908.0" y="1018.0" text-anchor="start">CHAMBER</text>
<g filter="url(#soft)">
<rect x="558" y="1043" width="339" height="390" rx="42" fill="#525051"/>
<text class="big" x="727.5" y="1231" text-anchor="middle" textLength="233" lengthAdjust="spacingAndGlyphs">PROG</text>
<text class="mode" x="727.5" y="1309" text-anchor="middle" textLength="139" lengthAdjust="spacingAndGlyphs">MODE</text>
</g>
<g transform="translate(904,1028.85)">
<rect width="2605" height="419" fill="#fff"/>
<clipPath id="h2"><rect x="-120" y="0" width="300" height="403.0"/></clipPath>
<g clip-path="url(#pclip)"><g filter="url(#soft)"><g transform="translate(0,0.0)">
<rect x="22" y="17.5" width="191.5" height="62.5" fill="#cbccce"/>
<rect x="22" y="84.0" width="191.5" height="60.0" fill="#cbccce"/>
<rect x="22" y="148.0" width="191.5" height="60.0" fill="#cbccce"/>
<rect x="22" y="212.0" width="191.5" height="60.0" fill="#cbccce"/>
<rect x="22" y="276.0" width="191.5" height="60.0" fill="#cbccce"/>
<rect x="22" y="340.0" width="191.5" height="57.5" fill="#cbccce"/>
<g transform="translate(75.5,16.0)"><g clip-path="url(#legtop)">
<g transform="translate(33,0) scale(0.93,1) translate(-33,0)"><use href="#leg" fill="#97999c" stroke="#fff" stroke-width="9" paint-order="stroke"/></g>
</g></g>
<text class="num" x="183" y="73.2">6</text>
<text class="num" x="183" y="138.5">5</text>
<text class="num" x="183" y="202.5">4</text>
<text class="num" x="183" y="266.5">3</text>
<text class="num" x="183" y="330.5">2</text>
<text class="num" x="183" y="393.2">1</text>
<rect x="316.0" y="17.5" width="270.0" height="62.5" fill="#cbccce"/>
<rect x="316.0" y="84.0" width="270.0" height="60.0" fill="#cbccce"/>
<rect x="316.0" y="148.0" width="270.0" height="60.0" fill="#cbccce"/>
<rect x="316.0" y="212.0" width="270.0" height="60.0" fill="#cbccce"/>
<rect x="316.0" y="276.0" width="270.0" height="60.0" fill="#cbccce"/>
<rect x="316.0" y="340.0" width="270.0" height="57.5" fill="#70cff6"/>
<rect x="586.0" y="17.5" width="273.0" height="62.5" fill="#cbccce"/>
<rect x="586.0" y="84.0" width="273.0" height="60.0" fill="#cbccce"/>
<rect x="586.0" y="148.0" width="273.0" height="60.0" fill="#cbccce"/>
<rect x="586.0" y="212.0" width="273.0" height="60.0" fill="#cbccce"/>
<rect x="586.0" y="276.0" width="273.0" height="60.0" fill="#70cff6"/>
<rect x="586.0" y="336.0" width="273.0" height="4.0" fill="#e0f6fe"/>
<rect x="586.0" y="340.0" width="273.0" height="57.5" fill="#70cff6"/>
<rect x="859.0" y="17.5" width="296.5" height="62.5" fill="#cbccce"/>
<rect x="859.0" y="84.0" width="296.5" height="60.0" fill="#cbccce"/>
<rect x="859.0" y="148.0" width="296.5" height="60.0" fill="#cbccce"/>
<rect x="859.0" y="212.0" width="296.5" height="60.0" fill="#70cff6"/>
<rect x="859.0" y="272.0" width="296.5" height="4.0" fill="#e0f6fe"/>
<rect x="859.0" y="276.0" width="296.5" height="60.0" fill="#70cff6"/>
<rect x="859.0" y="336.0" width="296.5" height="4.0" fill="#e0f6fe"/>
<rect x="859.0" y="340.0" width="296.5" height="57.5" fill="#70cff6"/>
<rect x="1155.5" y="17.5" width="305.5" height="62.5" fill="#cbccce"/>
<rect x="1155.5" y="84.0" width="305.5" height="60.0" fill="#cbccce"/>
<rect x="1155.5" y="148.0" width="305.5" height="60.0" fill="#70cff6"/>
<rect x="1155.5" y="208.0" width="305.5" height="4.0" fill="#e0f6fe"/>
<rect x="1155.5" y="212.0" width="305.5" height="60.0" fill="#70cff6"/>
<rect x="1155.5" y="272.0" width="305.5" height="4.0" fill="#e0f6fe"/>
<rect x="1155.5" y="276.0" width="305.5" height="60.0" fill="#70cff6"/>
<rect x="1155.5" y="340.0" width="305.5" height="57.5" fill="#cbccce"/>
<rect x="1461.0" y="17.5" width="340.5" height="62.5" fill="#cbccce"/>
<rect x="1461.0" y="84.0" width="340.5" height="60.0" fill="#70cff6"/>
<rect x="1461.0" y="144.0" width="340.5" height="4.0" fill="#e0f6fe"/>
<rect x="1461.0" y="148.0" width="340.5" height="60.0" fill="#70cff6"/>
<rect x="1461.0" y="208.0" width="340.5" height="4.0" fill="#e0f6fe"/>
<rect x="1461.0" y="212.0" width="340.5" height="60.0" fill="#70cff6"/>
<rect x="1461.0" y="276.0" width="340.5" height="60.0" fill="#cbccce"/>
<rect x="1461.0" y="340.0" width="340.5" height="57.5" fill="#cbccce"/>
<rect x="1801.5" y="17.5" width="306.5" height="62.5" fill="#70cff6"/>
<rect x="1801.5" y="80.0" width="306.5" height="4.0" fill="#e0f6fe"/>
<rect x="1801.5" y="84.0" width="306.5" height="60.0" fill="#70cff6"/>
<rect x="1801.5" y="144.0" width="306.5" height="4.0" fill="#e0f6fe"/>
<rect x="1801.5" y="148.0" width="306.5" height="60.0" fill="#70cff6"/>
<rect x="1801.5" y="212.0" width="306.5" height="60.0" fill="#cbccce"/>
<rect x="1801.5" y="276.0" width="306.5" height="60.0" fill="#cbccce"/>
<rect x="1801.5" y="340.0" width="306.5" height="57.5" fill="#cbccce"/>
<rect x="2108.0" y="17.5" width="298.0" height="62.5" fill="#70cff6"/>
<rect x="2108.0" y="80.0" width="298.0" height="4.0" fill="#e0f6fe"/>
<rect x="2108.0" y="84.0" width="298.0" height="60.0" fill="#70cff6"/>
<rect x="2108.0" y="148.0" width="298.0" height="60.0" fill="#cbccce"/>
<rect x="2108.0" y="212.0" width="298.0" height="60.0" fill="#cbccce"/>
<rect x="2108.0" y="276.0" width="298.0" height="60.0" fill="#cbccce"/>
<rect x="2108.0" y="340.0" width="298.0" height="57.5" fill="#cbccce"/>
<rect x="2406.0" y="17.5" width="164.5" height="62.5" fill="#cbccce"/>
<rect x="2406.0" y="84.0" width="164.5" height="60.0" fill="#cbccce"/>
<rect x="2406.0" y="148.0" width="164.5" height="60.0" fill="#cbccce"/>
<rect x="2406.0" y="212.0" width="164.5" height="60.0" fill="#cbccce"/>
<rect x="2406.0" y="276.0" width="164.5" height="60.0" fill="#cbccce"/>
<rect x="2406.0" y="340.0" width="164.5" height="57.5" fill="#cbccce"/>
<rect x="2575.5" y="16.5" width="5" height="382.0" fill="#2b2b2d"/>
<rect x="2585" y="17.5" width="16" height="62.5" fill="#cbccce"/>
<rect x="2585" y="84.0" width="16" height="60.0" fill="#cbccce"/>
<rect x="2585" y="148.0" width="16" height="60.0" fill="#cbccce"/>
<rect x="2585" y="212.0" width="16" height="60.0" fill="#cbccce"/>
<rect x="2585" y="276.0" width="16" height="60.0" fill="#cbccce"/>
<rect x="2585" y="340.0" width="16" height="57.5" fill="#cbccce"/>
<circle cx="2528.0" cy="178.5" r="13.5" fill="#ededee"/><circle cx="2528.0" cy="178.5" r="9" fill="#2b2b2d"/>
<circle cx="2528.0" cy="240.5" r="13.5" fill="#ededee"/><circle cx="2528.0" cy="240.5" r="9" fill="#2b2b2d"/>
<g transform="translate(286.0,16.0)"><g clip-path="url(#legtop)">
<use href="#leg" x="2.5" fill="#fff" stroke="#fff" stroke-width="29" clip-path="url(#h2)"/>
<use href="#leg" fill="none" stroke="#a3a5a8" stroke-width="18" clip-path="url(#r6)"/>
<use href="#leg" fill="none" stroke="#a3a5a8" stroke-width="18" clip-path="url(#r5)"/>
<use href="#leg" fill="none" stroke="#a3a5a8" stroke-width="18" clip-path="url(#r4)"/>
<use href="#leg" fill="none" stroke="#a3a5a8" stroke-width="18" clip-path="url(#r3)"/>
<use href="#leg" fill="none" stroke="#a3a5a8" stroke-width="18" clip-path="url(#r2)"/>
<use href="#leg" fill="none" stroke="#27aae1" stroke-width="19" clip-path="url(#r1)"/>
<use href="#leg" fill="none" stroke="#fff" stroke-width="7.5"/>
<use href="#leg" fill="#f5c9ae"/>
</g></g>
<g transform="translate(556.0,16.0)"><g clip-path="url(#legtop)">
<use href="#leg" x="2.5" fill="#fff" stroke="#fff" stroke-width="29" clip-path="url(#h2)"/>
<use href="#leg" fill="none" stroke="#a3a5a8" stroke-width="18" clip-path="url(#r6)"/>
<use href="#leg" fill="none" stroke="#a3a5a8" stroke-width="18" clip-path="url(#r5)"/>
<use href="#leg" fill="none" stroke="#a3a5a8" stroke-width="18" clip-path="url(#r4)"/>
<use href="#leg" fill="none" stroke="#a3a5a8" stroke-width="18" clip-path="url(#r3)"/>
<use href="#leg" fill="none" stroke="#27aae1" stroke-width="19" clip-path="url(#r2)"/>
<use href="#leg" fill="none" stroke="#27aae1" stroke-width="19" clip-path="url(#r1)"/>
<use href="#leg" fill="none" stroke="#fff" stroke-width="7.5"/>
<use href="#leg" fill="#f5c9ae"/>
</g></g>
<g transform="translate(829.0,16.0)"><g clip-path="url(#legtop)">
<use href="#leg" x="2.5" fill="#fff" stroke="#fff" stroke-width="29" clip-path="url(#h2)"/>
<use href="#leg" fill="none" stroke="#a3a5a8" stroke-width="18" clip-path="url(#r6)"/>
<use href="#leg" fill="none" stroke="#a3a5a8" stroke-width="18" clip-path="url(#r5)"/>
<use href="#leg" fill="none" stroke="#a3a5a8" stroke-width="18" clip-path="url(#r4)"/>
<use href="#leg" fill="none" stroke="#27aae1" stroke-width="19" clip-path="url(#r3)"/>
<use href="#leg" fill="none" stroke="#27aae1" stroke-width="19" clip-path="url(#r2)"/>
<use href="#leg" fill="none" stroke="#27aae1" stroke-width="19" clip-path="url(#r1)"/>
<use href="#leg" fill="none" stroke="#fff" stroke-width="7.5"/>
<use href="#leg" fill="#f5c9ae"/>
</g></g>
<g transform="translate(1125.5,16.0)"><g clip-path="url(#legtop)">
<use href="#leg" x="2.5" fill="#fff" stroke="#fff" stroke-width="29" clip-path="url(#h2)"/>
<use href="#leg" fill="none" stroke="#a3a5a8" stroke-width="18" clip-path="url(#r6)"/>
<use href="#leg" fill="none" stroke="#a3a5a8" stroke-width="18" clip-path="url(#r5)"/>
<use href="#leg" fill="none" stroke="#27aae1" stroke-width="19" clip-path="url(#r4)"/>
<use href="#leg" fill="none" stroke="#27aae1" stroke-width="19" clip-path="url(#r3)"/>
<use href="#leg" fill="none" stroke="#27aae1" stroke-width="19" clip-path="url(#r2)"/>
<use href="#leg" fill="none" stroke="#a3a5a8" stroke-width="18" clip-path="url(#r1)"/>
<use href="#leg" fill="none" stroke="#fff" stroke-width="7.5"/>
<use href="#leg" fill="#f5c9ae"/>
</g></g>
<g transform="translate(1431.0,16.0)"><g clip-path="url(#legtop)">
<use href="#leg" x="2.5" fill="#fff" stroke="#fff" stroke-width="29" clip-path="url(#h2)"/>
<use href="#leg" fill="none" stroke="#a3a5a8" stroke-width="18" clip-path="url(#r6)"/>
<use href="#leg" fill="none" stroke="#27aae1" stroke-width="19" clip-path="url(#r5)"/>
<use href="#leg" fill="none" stroke="#27aae1" stroke-width="19" clip-path="url(#r4)"/>
<use href="#leg" fill="none" stroke="#27aae1" stroke-width="19" clip-path="url(#r3)"/>
<use href="#leg" fill="none" stroke="#a3a5a8" stroke-width="18" clip-path="url(#r2)"/>
<use href="#leg" fill="none" stroke="#a3a5a8" stroke-width="18" clip-path="url(#r1)"/>
<use href="#leg" fill="none" stroke="#fff" stroke-width="7.5"/>
<use href="#leg" fill="#f5c9ae"/>
</g></g>
<g transform="translate(1771.5,16.0)"><g clip-path="url(#legtop)">
<use href="#leg" x="2.5" fill="#fff" stroke="#fff" stroke-width="29" clip-path="url(#h2)"/>
<use href="#leg" fill="none" stroke="#27aae1" stroke-width="19" clip-path="url(#r6)"/>
<use href="#leg" fill="none" stroke="#27aae1" stroke-width="19" clip-path="url(#r5)"/>
<use href="#leg" fill="none" stroke="#27aae1" stroke-width="19" clip-path="url(#r4)"/>
<use href="#leg" fill="none" stroke="#a3a5a8" stroke-width="18" clip-path="url(#r3)"/>
<use href="#leg" fill="none" stroke="#a3a5a8" stroke-width="18" clip-path="url(#r2)"/>
<use href="#leg" fill="none" stroke="#a3a5a8" stroke-width="18" clip-path="url(#r1)"/>
<use href="#leg" fill="none" stroke="#fff" stroke-width="7.5"/>
<use href="#leg" fill="#f5c9ae"/>
</g></g>
<g transform="translate(2078.0,16.0)"><g clip-path="url(#legtop)">
<use href="#leg" x="2.5" fill="#fff" stroke="#fff" stroke-width="29" clip-path="url(#h2)"/>
<use href="#leg" fill="none" stroke="#27aae1" stroke-width="19" clip-path="url(#r6)"/>
<use href="#leg" fill="none" stroke="#27aae1" stroke-width="19" clip-path="url(#r5)"/>
<use href="#leg" fill="none" stroke="#a3a5a8" stroke-width="18" clip-path="url(#r4)"/>
<use href="#leg" fill="none" stroke="#a3a5a8" stroke-width="18" clip-path="url(#r3)"/>
<use href="#leg" fill="none" stroke="#a3a5a8" stroke-width="18" clip-path="url(#r2)"/>
<use href="#leg" fill="none" stroke="#a3a5a8" stroke-width="18" clip-path="url(#r1)"/>
<use href="#leg" fill="none" stroke="#fff" stroke-width="7.5"/>
<use href="#leg" fill="#f5c9ae"/>
</g></g>
<g transform="translate(2376.0,16.0)"><g clip-path="url(#legtop)">
<use href="#leg" x="2.5" fill="#fff" stroke="#fff" stroke-width="29" clip-path="url(#h2)"/>
<use href="#leg" fill="none" stroke="#8f9194" stroke-width="11" clip-path="url(#r6)"/>
<use href="#leg" fill="none" stroke="#8f9194" stroke-width="11" clip-path="url(#r5)"/>
<use href="#leg" fill="none" stroke="#8f9194" stroke-width="11" clip-path="url(#r4)"/>
<use href="#leg" fill="none" stroke="#8f9194" stroke-width="11" clip-path="url(#r3)"/>
<use href="#leg" fill="none" stroke="#8f9194" stroke-width="11" clip-path="url(#r2)"/>
<use href="#leg" fill="none" stroke="#8f9194" stroke-width="11" clip-path="url(#r1)"/>
<use href="#leg" fill="none" stroke="#fff" stroke-width="4.5"/>
<use href="#leg" fill="#f5c9ae"/>
</g></g>
</g></g></g>
</g>
<rect x="2674" y="1641.5" width="806" height="70" fill="#fff"/>
<g filter="url(#soft)">
<rect x="2686.0" y="1646.0" width="26" height="60.5" fill="#0cadef"/>
<rect x="2718.0" y="1646.0" width="173.0" height="60.5" fill="#70cff6"/>
<rect x="2981.0" y="1646.0" width="26" height="60.5" fill="#70cff6"/>
<rect x="3015.0" y="1646.0" width="174.0" height="60.5" fill="#70cff6"/>
<rect x="3266.0" y="1646.0" width="26" height="60.5" fill="#9a9b9e"/>
<rect x="3299.0" y="1646.0" width="174.0" height="60.5" fill="#cbccce"/>
</g>
<text class="lb" x="2674.0" y="1749.0" text-anchor="start">INFLATION</text>
<text class="lb" x="2985.0" y="1749.0" text-anchor="start">HOLDING</text>
<text class="lb" x="3490.0" y="1749.0" text-anchor="end">DEFLATION</text>
<text class="lb" x="908.0" y="1786.0" text-anchor="start">CHAMBER</text>
<g filter="url(#soft)">
<rect x="558" y="1818" width="339" height="390" rx="42" fill="#525051"/>
<text class="big" x="727.5" y="2006" text-anchor="middle" textLength="272" lengthAdjust="spacingAndGlyphs">OVLAY</text>
<text class="mode" x="727.5" y="2084" text-anchor="middle" textLength="139" lengthAdjust="spacingAndGlyphs">MODE</text>
</g>
<g transform="translate(904,1803.85)">
<rect width="2605" height="419" fill="#fff"/>
<clipPath id="h3"><rect x="-120" y="0" width="300" height="406.0"/></clipPath>
<g clip-path="url(#pclip)"><g filter="url(#soft)"><g transform="translate(0,-3.0)">
<rect x="22" y="17.5" width="191.5" height="62.5" fill="#cbccce"/>
<rect x="22" y="84.0" width="191.5" height="60.0" fill="#cbccce"/>
<rect x="22" y="148.0" width="191.5" height="60.0" fill="#cbccce"/>
<rect x="22" y="212.0" width="191.5" height="60.0" fill="#cbccce"/>
<rect x="22" y="276.0" width="191.5" height="60.0" fill="#cbccce"/>
<rect x="22" y="340.0" width="191.5" height="57.5" fill="#cbccce"/>
<g transform="translate(75.5,16.0)"><g clip-path="url(#legtop)">
<g transform="translate(33,0) scale(0.93,1) translate(-33,0)"><use href="#leg" fill="#97999c" stroke="#fff" stroke-width="9" paint-order="stroke"/></g>
</g></g>
<text class="num" x="183" y="73.2">6</text>
<text class="num" x="183" y="138.5">5</text>
<text class="num" x="183" y="202.5">4</text>
<text class="num" x="183" y="266.5">3</text>
<text class="num" x="183" y="330.5">2</text>
<text class="num" x="183" y="393.2">1</text>
<rect x="316.0" y="17.5" width="757.5" height="62.5" fill="#70cff6"/>
<rect x="316.0" y="80.0" width="757.5" height="4.0" fill="#e0f6fe"/>
<rect x="316.0" y="84.0" width="757.5" height="60.0" fill="#70cff6"/>
<rect x="316.0" y="144.0" width="757.5" height="4.0" fill="#e0f6fe"/>
<rect x="316.0" y="148.0" width="757.5" height="60.0" fill="#70cff6"/>
<rect x="316.0" y="208.0" width="757.5" height="4.0" fill="#e0f6fe"/>
<rect x="316.0" y="212.0" width="757.5" height="60.0" fill="#70cff6"/>
<rect x="316.0" y="272.0" width="757.5" height="4.0" fill="#e0f6fe"/>
<rect x="316.0" y="276.0" width="757.5" height="60.0" fill="#70cff6"/>
<rect x="316.0" y="336.0" width="757.5" height="4.0" fill="#e0f6fe"/>
<rect x="316.0" y="340.0" width="757.5" height="57.5" fill="#70cff6"/>
<rect x="1073.5" y="17.5" width="779.0" height="62.5" fill="#70cff6"/>
<rect x="1073.5" y="80.0" width="779.0" height="4.0" fill="#e0f6fe"/>
<rect x="1073.5" y="84.0" width="779.0" height="60.0" fill="#70cff6"/>
<rect x="1073.5" y="144.0" width="779.0" height="4.0" fill="#e0f6fe"/>
<rect x="1073.5" y="148.0" width="779.0" height="60.0" fill="#70cff6"/>
<rect x="1073.5" y="208.0" width="779.0" height="4.0" fill="#e0f6fe"/>
<rect x="1073.5" y="212.0" width="779.0" height="60.0" fill="#70cff6"/>
<rect x="1073.5" y="272.0" width="779.0" height="4.0" fill="#e0f6fe"/>
<rect x="1073.5" y="276.0" width="779.0" height="60.0" fill="#70cff6"/>
<rect x="1073.5" y="336.0" width="779.0" height="4.0" fill="#e0f6fe"/>
<rect x="1073.5" y="340.0" width="779.0" height="57.5" fill="#70cff6"/>
<rect x="1852.5" y="17.5" width="718.0" height="62.5" fill="#cbccce"/>
<rect x="1852.5" y="84.0" width="718.0" height="60.0" fill="#cbccce"/>
<rect x="1852.5" y="148.0" width="718.0" height="60.0" fill="#cbccce"/>
<rect x="1852.5" y="212.0" width="718.0" height="60.0" fill="#cbccce"/>
<rect x="1852.5" y="276.0" width="718.0" height="60.0" fill="#cbccce"/>
<rect x="1852.5" y="340.0" width="718.0" height="57.5" fill="#cbccce"/>
<rect x="2575.5" y="16.5" width="5" height="382.0" fill="#2b2b2d"/>
<rect x="2585" y="17.5" width="16" height="62.5" fill="#cbccce"/>
<rect x="2585" y="84.0" width="16" height="60.0" fill="#cbccce"/>
<rect x="2585" y="148.0" width="16" height="60.0" fill="#cbccce"/>
<rect x="2585" y="212.0" width="16" height="60.0" fill="#cbccce"/>
<rect x="2585" y="276.0" width="16" height="60.0" fill="#cbccce"/>
<rect x="2585" y="340.0" width="16" height="57.5" fill="#cbccce"/>
<circle cx="2528.0" cy="178.5" r="13.5" fill="#ededee"/><circle cx="2528.0" cy="178.5" r="9" fill="#2b2b2d"/>
<circle cx="2528.0" cy="240.5" r="13.5" fill="#ededee"/><circle cx="2528.0" cy="240.5" r="9" fill="#2b2b2d"/>
<g transform="translate(286.0,16.0)"><g clip-path="url(#legtop)">
<use href="#leg" x="2.5" fill="#fff" stroke="#fff" stroke-width="29" clip-path="url(#h3)"/>
<use href="#leg" fill="none" stroke="#27aae1" stroke-width="19" clip-path="url(#r6)"/>
<use href="#leg" fill="none" stroke="#27aae1" stroke-width="19" clip-path="url(#r5)"/>
<use href="#leg" fill="none" stroke="#27aae1" stroke-width="19" clip-path="url(#r4)"/>
<use href="#leg" fill="none" stroke="#27aae1" stroke-width="19" clip-path="url(#r3)"/>
<use href="#leg" fill="none" stroke="#27aae1" stroke-width="19" clip-path="url(#r2)"/>
<use href="#leg" fill="none" stroke="#27aae1" stroke-width="19" clip-path="url(#r1)"/>
<use href="#leg" fill="none" stroke="#fff" stroke-width="7.5"/>
<use href="#leg" fill="#f5c9ae"/>
</g></g>
<g transform="translate(1043.5,16.0)"><g clip-path="url(#legtop)">
<use href="#leg" x="2.5" fill="#fff" stroke="#fff" stroke-width="29" clip-path="url(#h3)"/>
<use href="#leg" fill="none" stroke="#d8f3fd" stroke-width="19" clip-path="url(#r6)"/>
<use href="#leg" fill="none" stroke="#d8f3fd" stroke-width="19" clip-path="url(#r5)"/>
<use href="#leg" fill="none" stroke="#d8f3fd" stroke-width="19" clip-path="url(#r4)"/>
<use href="#leg" fill="none" stroke="#d8f3fd" stroke-width="19" clip-path="url(#r3)"/>
<use href="#leg" fill="none" stroke="#d8f3fd" stroke-width="19" clip-path="url(#r2)"/>
<use href="#leg" fill="none" stroke="#d8f3fd" stroke-width="19" clip-path="url(#r1)"/>
<use href="#leg" fill="none" stroke="#fff" stroke-width="7.5"/>
<use href="#leg" fill="#f5c9ae"/>
</g></g>
<g transform="translate(1822.5,16.0)"><g clip-path="url(#legtop)">
<use href="#leg" x="2.5" fill="#fff" stroke="#fff" stroke-width="29" clip-path="url(#h3)"/>
<use href="#leg" fill="none" stroke="#8f9194" stroke-width="11" clip-path="url(#r6)"/>
<use href="#leg" fill="none" stroke="#8f9194" stroke-width="11" clip-path="url(#r5)"/>
<use href="#leg" fill="none" stroke="#8f9194" stroke-width="11" clip-path="url(#r4)"/>
<use href="#leg" fill="none" stroke="#8f9194" stroke-width="11" clip-path="url(#r3)"/>
<use href="#leg" fill="none" stroke="#8f9194" stroke-width="11" clip-path="url(#r2)"/>
<use href="#leg" fill="none" stroke="#8f9194" stroke-width="11" clip-path="url(#r1)"/>
<use href="#leg" fill="none" stroke="#fff" stroke-width="4.5"/>
<use href="#leg" fill="#f5c9ae"/>
</g></g>
</g></g></g>
</g>
<rect x="2403" y="2490.0" width="1087" height="70" fill="#fff"/>
<g filter="url(#soft)">
<rect x="2429.0" y="2494.5" width="26" height="60.5" fill="#0cadef"/>
<rect x="2462.0" y="2494.5" width="174.0" height="60.5" fill="#70cff6"/>
<rect x="2726.0" y="2494.5" width="26" height="60.5" fill="#70cff6"/>
<rect x="2759.0" y="2494.5" width="174.0" height="60.5" fill="#70cff6"/>
<rect x="2998.0" y="2494.5" width="26" height="60.5" fill="#0cadef"/>
<rect x="3033.0" y="2494.5" width="174.0" height="60.5" fill="#70cff6"/>
<rect x="3266.0" y="2494.5" width="26" height="60.5" fill="#9a9b9e"/>
<rect x="3299.0" y="2494.5" width="174.0" height="60.5" fill="#cbccce"/>
</g>
<text class="lb" x="2422.0" y="2598.0" text-anchor="start">INFLATION</text>
<text class="lb" x="2725.0" y="2598.0" text-anchor="start">HOLDING</text>
<text class="lb" x="2999.0" y="2598.0" text-anchor="start">RELEASING</text>
<text class="lb" x="3490.0" y="2595.0" text-anchor="end">DEFLATION</text>
<text class="lb" x="908.0" y="2639.0" text-anchor="start">CHAMBER</text>
<g filter="url(#soft)">
<rect x="558" y="2666" width="339" height="390" rx="42" fill="#525051"/>
<text class="big" x="727.5" y="2854" text-anchor="middle" textLength="250" lengthAdjust="spacingAndGlyphs">DRAIN</text>
<text class="mode" x="727.5" y="2932" text-anchor="middle" textLength="139" lengthAdjust="spacingAndGlyphs">MODE</text>
</g>
<g transform="translate(904,2651.85)">
<rect width="2605" height="419" fill="#fff"/>
<clipPath id="h4"><rect x="-120" y="0" width="300" height="402.5"/></clipPath>
<g clip-path="url(#pclip)"><g filter="url(#soft)"><g transform="translate(0,0.5)">
<rect x="22" y="17.5" width="191.5" height="62.5" fill="#cbccce"/>
<rect x="22" y="84.0" width="191.5" height="60.0" fill="#cbccce"/>
<rect x="22" y="148.0" width="191.5" height="60.0" fill="#cbccce"/>
<rect x="22" y="212.0" width="191.5" height="60.0" fill="#cbccce"/>
<rect x="22" y="276.0" width="191.5" height="60.0" fill="#cbccce"/>
<rect x="22" y="340.0" width="191.5" height="57.5" fill="#cbccce"/>
<g transform="translate(75.5,16.0)"><g clip-path="url(#legtop)">
<g transform="translate(33,0) scale(0.93,1) translate(-33,0)"><use href="#leg" fill="#97999c" stroke="#fff" stroke-width="9" paint-order="stroke"/></g>
</g></g>
<text class="num" x="183" y="73.2">6</text>
<text class="num" x="183" y="138.5">5</text>
<text class="num" x="183" y="202.5">4</text>
<text class="num" x="183" y="266.5">3</text>
<text class="num" x="183" y="330.5">2</text>
<text class="num" x="183" y="393.2">1</text>
<rect x="317.0" y="17.5" width="288.0" height="62.5" fill="#cbccce"/>
<rect x="317.0" y="84.0" width="288.0" height="60.0" fill="#cbccce"/>
<rect x="317.0" y="148.0" width="288.0" height="60.0" fill="#cbccce"/>
<rect x="317.0" y="212.0" width="288.0" height="60.0" fill="#cbccce"/>
<rect x="317.0" y="276.0" width="288.0" height="60.0" fill="#cbccce"/>
<rect x="317.0" y="340.0" width="288.0" height="57.5" fill="#70cff6"/>
<rect x="605.0" y="17.5" width="293.0" height="62.5" fill="#cbccce"/>
<rect x="605.0" y="84.0" width="293.0" height="60.0" fill="#cbccce"/>
<rect x="605.0" y="148.0" width="293.0" height="60.0" fill="#cbccce"/>
<rect x="605.0" y="212.0" width="293.0" height="60.0" fill="#cbccce"/>
<rect x="605.0" y="276.0" width="293.0" height="60.0" fill="#70cff6"/>
<rect x="605.0" y="336.0" width="293.0" height="4.0" fill="#e0f6fe"/>
<rect x="605.0" y="340.0" width="293.0" height="57.5" fill="#70cff6"/>
<rect x="898.0" y="17.5" width="290.5" height="62.5" fill="#cbccce"/>
<rect x="898.0" y="84.0" width="290.5" height="60.0" fill="#cbccce"/>
<rect x="898.0" y="148.0" width="290.5" height="60.0" fill="#cbccce"/>
<rect x="898.0" y="212.0" width="290.5" height="60.0" fill="#70cff6"/>
<rect x="898.0" y="272.0" width="290.5" height="4.0" fill="#e0f6fe"/>
<rect x="898.0" y="276.0" width="290.5" height="60.0" fill="#70cff6"/>
<rect x="898.0" y="336.0" width="290.5" height="4.0" fill="#e0f6fe"/>
<rect x="898.0" y="340.0" width="290.5" height="57.5" fill="#70cff6"/>
<rect x="1188.5" y="17.5" width="292.5" height="62.5" fill="#cbccce"/>
<rect x="1188.5" y="84.0" width="292.5" height="60.0" fill="#cbccce"/>
<rect x="1188.5" y="148.0" width="292.5" height="60.0" fill="#70cff6"/>
<rect x="1188.5" y="208.0" width="292.5" height="4.0" fill="#e0f6fe"/>
<rect x="1188.5" y="212.0" width="292.5" height="60.0" fill="#70cff6"/>
<rect x="1188.5" y="272.0" width="292.5" height="4.0" fill="#e0f6fe"/>
<rect x="1188.5" y="276.0" width="292.5" height="60.0" fill="#70cff6"/>
<rect x="1188.5" y="336.0" width="292.5" height="4.0" fill="#e0f6fe"/>
<rect x="1188.5" y="340.0" width="292.5" height="57.5" fill="#70cff6"/>
<rect x="1481.0" y="17.5" width="290.5" height="62.5" fill="#cbccce"/>
<rect x="1481.0" y="84.0" width="290.5" height="60.0" fill="#70cff6"/>
<rect x="1481.0" y="144.0" width="290.5" height="4.0" fill="#e0f6fe"/>
<rect x="1481.0" y="148.0" width="290.5" height="60.0" fill="#70cff6"/>
<rect x="1481.0" y="208.0" width="290.5" height="4.0" fill="#e0f6fe"/>
<rect x="1481.0" y="212.0" width="290.5" height="60.0" fill="#70cff6"/>
<rect x="1481.0" y="272.0" width="290.5" height="4.0" fill="#e0f6fe"/>
<rect x="1481.0" y="276.0" width="290.5" height="60.0" fill="#70cff6"/>
<rect x="1481.0" y="336.0" width="290.5" height="4.0" fill="#e0f6fe"/>
<rect x="1481.0" y="340.0" width="290.5" height="57.5" fill="#70cff6"/>
<rect x="1771.5" y="17.5" width="288.5" height="62.5" fill="#70cff6"/>
<rect x="1771.5" y="80.0" width="288.5" height="4.0" fill="#e0f6fe"/>
<rect x="1771.5" y="84.0" width="288.5" height="60.0" fill="#70cff6"/>
<rect x="1771.5" y="144.0" width="288.5" height="4.0" fill="#e0f6fe"/>
<rect x="1771.5" y="148.0" width="288.5" height="60.0" fill="#70cff6"/>
<rect x="1771.5" y="208.0" width="288.5" height="4.0" fill="#e0f6fe"/>
<rect x="1771.5" y="212.0" width="288.5" height="60.0" fill="#70cff6"/>
<rect x="1771.5" y="272.0" width="288.5" height="4.0" fill="#e0f6fe"/>
<rect x="1771.5" y="276.0" width="288.5" height="60.0" fill="#70cff6"/>
<rect x="1771.5" y="336.0" width="288.5" height="4.0" fill="#e0f6fe"/>
<rect x="1771.5" y="340.0" width="288.5" height="57.5" fill="#70cff6"/>
<rect x="2060.0" y="17.5" width="288.0" height="62.5" fill="#70cff6"/>
<rect x="2060.0" y="80.0" width="288.0" height="4.0" fill="#e0f6fe"/>
<rect x="2060.0" y="84.0" width="288.0" height="60.0" fill="#70cff6"/>
<rect x="2060.0" y="144.0" width="288.0" height="4.0" fill="#e0f6fe"/>
<rect x="2060.0" y="148.0" width="288.0" height="60.0" fill="#70cff6"/>
<rect x="2060.0" y="208.0" width="288.0" height="4.0" fill="#e0f6fe"/>
<rect x="2060.0" y="212.0" width="288.0" height="60.0" fill="#70cff6"/>
<rect x="2060.0" y="272.0" width="288.0" height="4.0" fill="#e0f6fe"/>
<rect x="2060.0" y="276.0" width="288.0" height="60.0" fill="#70cff6"/>
<rect x="2060.0" y="336.0" width="288.0" height="4.0" fill="#e0f6fe"/>
<rect x="2060.0" y="340.0" width="288.0" height="57.5" fill="#70cff6"/>
<rect x="2348.0" y="17.5" width="277.0" height="62.5" fill="#cbccce"/>
<rect x="2348.0" y="84.0" width="277.0" height="60.0" fill="#cbccce"/>
<rect x="2348.0" y="148.0" width="277.0" height="60.0" fill="#cbccce"/>
<rect x="2348.0" y="212.0" width="277.0" height="60.0" fill="#cbccce"/>
<rect x="2348.0" y="276.0" width="277.0" height="60.0" fill="#cbccce"/>
<rect x="2348.0" y="340.0" width="277.0" height="57.5" fill="#cbccce"/>
<g transform="translate(287.0,16.0)"><g clip-path="url(#legtop)">
<use href="#leg" x="2.5" fill="#fff" stroke="#fff" stroke-width="29" clip-path="url(#h4)"/>
<use href="#leg" fill="none" stroke="#a3a5a8" stroke-width="18" clip-path="url(#r6)"/>
<use href="#leg" fill="none" stroke="#a3a5a8" stroke-width="18" clip-path="url(#r5)"/>
<use href="#leg" fill="none" stroke="#a3a5a8" stroke-width="18" clip-path="url(#r4)"/>
<use href="#leg" fill="none" stroke="#a3a5a8" stroke-width="18" clip-path="url(#r3)"/>
<use href="#leg" fill="none" stroke="#a3a5a8" stroke-width="18" clip-path="url(#r2)"/>
<use href="#leg" fill="none" stroke="#27aae1" stroke-width="19" clip-path="url(#r1)"/>
<use href="#leg" fill="none" stroke="#fff" stroke-width="7.5"/>
<use href="#leg" fill="#f5c9ae"/>
</g></g>
<g transform="translate(575.0,16.0)"><g clip-path="url(#legtop)">
<use href="#leg" x="2.5" fill="#fff" stroke="#fff" stroke-width="29" clip-path="url(#h4)"/>
<use href="#leg" fill="none" stroke="#a3a5a8" stroke-width="18" clip-path="url(#r6)"/>
<use href="#leg" fill="none" stroke="#a3a5a8" stroke-width="18" clip-path="url(#r5)"/>
<use href="#leg" fill="none" stroke="#a3a5a8" stroke-width="18" clip-path="url(#r4)"/>
<use href="#leg" fill="none" stroke="#a3a5a8" stroke-width="18" clip-path="url(#r3)"/>
<use href="#leg" fill="none" stroke="#27aae1" stroke-width="19" clip-path="url(#r2)"/>
<use href="#leg" fill="none" stroke="#27aae1" stroke-width="19" clip-path="url(#r1)"/>
<use href="#leg" fill="none" stroke="#fff" stroke-width="7.5"/>
<use href="#leg" fill="#f5c9ae"/>
</g></g>
<g transform="translate(868.0,16.0)"><g clip-path="url(#legtop)">
<use href="#leg" x="2.5" fill="#fff" stroke="#fff" stroke-width="29" clip-path="url(#h4)"/>
<use href="#leg" fill="none" stroke="#a3a5a8" stroke-width="18" clip-path="url(#r6)"/>
<use href="#leg" fill="none" stroke="#a3a5a8" stroke-width="18" clip-path="url(#r5)"/>
<use href="#leg" fill="none" stroke="#a3a5a8" stroke-width="18" clip-path="url(#r4)"/>
<use href="#leg" fill="none" stroke="#27aae1" stroke-width="19" clip-path="url(#r3)"/>
<use href="#leg" fill="none" stroke="#27aae1" stroke-width="19" clip-path="url(#r2)"/>
<use href="#leg" fill="none" stroke="#27aae1" stroke-width="19" clip-path="url(#r1)"/>
<use href="#leg" fill="none" stroke="#fff" stroke-width="7.5"/>
<use href="#leg" fill="#f5c9ae"/>
</g></g>
<g transform="translate(1158.5,16.0)"><g clip-path="url(#legtop)">
<use href="#leg" x="2.5" fill="#fff" stroke="#fff" stroke-width="29" clip-path="url(#h4)"/>
<use href="#leg" fill="none" stroke="#a3a5a8" stroke-width="18" clip-path="url(#r6)"/>
<use href="#leg" fill="none" stroke="#a3a5a8" stroke-width="18" clip-path="url(#r5)"/>
<use href="#leg" fill="none" stroke="#27aae1" stroke-width="19" clip-path="url(#r4)"/>
<use href="#leg" fill="none" stroke="#27aae1" stroke-width="19" clip-path="url(#r3)"/>
<use href="#leg" fill="none" stroke="#27aae1" stroke-width="19" clip-path="url(#r2)"/>
<use href="#leg" fill="none" stroke="#27aae1" stroke-width="19" clip-path="url(#r1)"/>
<use href="#leg" fill="none" stroke="#fff" stroke-width="7.5"/>
<use href="#leg" fill="#f5c9ae"/>
</g></g>
<g transform="translate(1451.0,16.0)"><g clip-path="url(#legtop)">
<use href="#leg" x="2.5" fill="#fff" stroke="#fff" stroke-width="29" clip-path="url(#h4)"/>
<use href="#leg" fill="none" stroke="#a3a5a8" stroke-width="18" clip-path="url(#r6)"/>
<use href="#leg" fill="none" stroke="#27aae1" stroke-width="19" clip-path="url(#r5)"/>
<use href="#leg" fill="none" stroke="#27aae1" stroke-width="19" clip-path="url(#r4)"/>
<use href="#leg" fill="none" stroke="#27aae1" stroke-width="19" clip-path="url(#r3)"/>
<use href="#leg" fill="none" stroke="#27aae1" stroke-width="19" clip-path="url(#r2)"/>
<use href="#leg" fill="none" stroke="#27aae1" stroke-width="19" clip-path="url(#r1)"/>
<use href="#leg" fill="none" stroke="#fff" stroke-width="7.5"/>
<use href="#leg" fill="#f5c9ae"/>
</g></g>
<g transform="translate(1741.5,16.0)"><g clip-path="url(#legtop)">
<use href="#leg" x="2.5" fill="#fff" stroke="#fff" stroke-width="29" clip-path="url(#h4)"/>
<use href="#leg" fill="none" stroke="#27aae1" stroke-width="19" clip-path="url(#r6)"/>
<use href="#leg" fill="none" stroke="#27aae1" stroke-width="19" clip-path="url(#r5)"/>
<use href="#leg" fill="none" stroke="#27aae1" stroke-width="19" clip-path="url(#r4)"/>
<use href="#leg" fill="none" stroke="#27aae1" stroke-width="19" clip-path="url(#r3)"/>
<use href="#leg" fill="none" stroke="#27aae1" stroke-width="19" clip-path="url(#r2)"/>
<use href="#leg" fill="none" stroke="#27aae1" stroke-width="19" clip-path="url(#r1)"/>
<use href="#leg" fill="none" stroke="#fff" stroke-width="7.5"/>
<use href="#leg" fill="#f5c9ae"/>
</g></g>
<g transform="translate(2030.0,16.0)"><g clip-path="url(#legtop)">
<use href="#leg" x="2.5" fill="#fff" stroke="#fff" stroke-width="29" clip-path="url(#h4)"/>
<use href="#leg" fill="none" stroke="#d8f3fd" stroke-width="19" clip-path="url(#r6)"/>
<use href="#leg" fill="none" stroke="#d8f3fd" stroke-width="19" clip-path="url(#r5)"/>
<use href="#leg" fill="none" stroke="#d8f3fd" stroke-width="19" clip-path="url(#r4)"/>
<use href="#leg" fill="none" stroke="#d8f3fd" stroke-width="19" clip-path="url(#r3)"/>
<use href="#leg" fill="none" stroke="#d8f3fd" stroke-width="19" clip-path="url(#r2)"/>
<use href="#leg" fill="none" stroke="#d8f3fd" stroke-width="19" clip-path="url(#r1)"/>
<use href="#leg" fill="none" stroke="#fff" stroke-width="7.5"/>
<use href="#leg" fill="#f5c9ae"/>
</g></g>
<g transform="translate(2318.0,16.0)"><g clip-path="url(#legtop)">
<use href="#leg" x="2.5" fill="#fff" stroke="#fff" stroke-width="29" clip-path="url(#h4)"/>
<use href="#leg" fill="none" stroke="#8f9194" stroke-width="11" clip-path="url(#r6)"/>
<use href="#leg" fill="none" stroke="#8f9194" stroke-width="11" clip-path="url(#r5)"/>
<use href="#leg" fill="none" stroke="#8f9194" stroke-width="11" clip-path="url(#r4)"/>
<use href="#leg" fill="none" stroke="#8f9194" stroke-width="11" clip-path="url(#r3)"/>
<use href="#leg" fill="none" stroke="#8f9194" stroke-width="11" clip-path="url(#r2)"/>
<use href="#leg" fill="none" stroke="#8f9194" stroke-width="11" clip-path="url(#r1)"/>
<use href="#leg" fill="none" stroke="#fff" stroke-width="4.5"/>
<use href="#leg" fill="#f5c9ae"/>
</g></g>
</g></g></g>
</g>
<text class="lb" x="903.0" y="3314.0" text-anchor="start">CHAMBER</text>
<g transform="translate(904,3324.85)">
<rect width="2605" height="419" fill="#fff"/>
<clipPath id="h5"><rect x="-120" y="0" width="300" height="407.8"/></clipPath>
<g clip-path="url(#pclip)"><g filter="url(#soft)"><g transform="translate(0,-4.8)">
<rect x="22" y="17.5" width="191.5" height="62.5" fill="#cbccce"/>
<rect x="22" y="84.0" width="191.5" height="60.0" fill="#cbccce"/>
<rect x="22" y="148.0" width="191.5" height="60.0" fill="#cbccce"/>
<rect x="22" y="212.0" width="191.5" height="60.0" fill="#cbccce"/>
<rect x="22" y="276.0" width="191.5" height="60.0" fill="#cbccce"/>
<rect x="22" y="340.0" width="191.5" height="57.5" fill="#cbccce"/>
<g transform="translate(75.5,16.0)"><g clip-path="url(#legtop)">
<g transform="translate(33,0) scale(0.93,1) translate(-33,0)"><use href="#leg" fill="#97999c" stroke="#fff" stroke-width="9" paint-order="stroke"/></g>
</g></g>
<text class="num" x="183" y="73.2">6</text>
<text class="num" x="183" y="138.5">5</text>
<text class="num" x="183" y="202.5">4</text>
<text class="num" x="183" y="266.5">3</text>
<text class="num" x="183" y="330.5">2</text>
<text class="num" x="183" y="393.2">1</text>
<rect x="317.0" y="17.5" width="269.5" height="62.5" fill="#cbccce"/>
<rect x="317.0" y="84.0" width="269.5" height="60.0" fill="#cbccce"/>
<rect x="317.0" y="148.0" width="269.5" height="60.0" fill="#cbccce"/>
<rect x="317.0" y="212.0" width="269.5" height="60.0" fill="#cbccce"/>
<rect x="317.0" y="276.0" width="269.5" height="60.0" fill="#cbccce"/>
<rect x="317.0" y="340.0" width="269.5" height="57.5" fill="#70cff6"/>
<rect x="586.5" y="17.5" width="267.0" height="62.5" fill="#cbccce"/>
<rect x="586.5" y="84.0" width="267.0" height="60.0" fill="#cbccce"/>
<rect x="586.5" y="148.0" width="267.0" height="60.0" fill="#cbccce"/>
<rect x="586.5" y="212.0" width="267.0" height="60.0" fill="#cbccce"/>
<rect x="586.5" y="276.0" width="267.0" height="60.0" fill="#70cff6"/>
<rect x="586.5" y="336.0" width="267.0" height="4.0" fill="#e0f6fe"/>
<rect x="586.5" y="340.0" width="267.0" height="57.5" fill="#70cff6"/>
<rect x="853.5" y="17.5" width="300.5" height="62.5" fill="#cbccce"/>
<rect x="853.5" y="84.0" width="300.5" height="60.0" fill="#cbccce"/>
<rect x="853.5" y="148.0" width="300.5" height="60.0" fill="#cbccce"/>
<rect x="853.5" y="212.0" width="300.5" height="60.0" fill="#70cff6"/>
<rect x="853.5" y="272.0" width="300.5" height="4.0" fill="#e0f6fe"/>
<rect x="853.5" y="276.0" width="300.5" height="60.0" fill="#70cff6"/>
<rect x="853.5" y="336.0" width="300.5" height="4.0" fill="#e0f6fe"/>
<rect x="853.5" y="340.0" width="300.5" height="57.5" fill="#70cff6"/>
<rect x="1154.0" y="17.5" width="301.0" height="62.5" fill="#cbccce"/>
<rect x="1154.0" y="84.0" width="301.0" height="60.0" fill="#cbccce"/>
<rect x="1154.0" y="148.0" width="301.0" height="60.0" fill="#70cff6"/>
<rect x="1154.0" y="208.0" width="301.0" height="4.0" fill="#e0f6fe"/>
<rect x="1154.0" y="212.0" width="301.0" height="60.0" fill="#70cff6"/>
<rect x="1154.0" y="272.0" width="301.0" height="4.0" fill="#e0f6fe"/>
<rect x="1154.0" y="276.0" width="301.0" height="60.0" fill="#70cff6"/>
<rect x="1154.0" y="340.0" width="301.0" height="57.5" fill="#cbccce"/>
<rect x="1455.0" y="17.5" width="291.0" height="62.5" fill="#cbccce"/>
<rect x="1455.0" y="84.0" width="291.0" height="60.0" fill="#70cff6"/>
<rect x="1455.0" y="144.0" width="291.0" height="4.0" fill="#e0f6fe"/>
<rect x="1455.0" y="148.0" width="291.0" height="60.0" fill="#70cff6"/>
<rect x="1455.0" y="208.0" width="291.0" height="4.0" fill="#e0f6fe"/>
<rect x="1455.0" y="212.0" width="291.0" height="60.0" fill="#70cff6"/>
<rect x="1455.0" y="276.0" width="291.0" height="60.0" fill="#cbccce"/>
<rect x="1455.0" y="340.0" width="291.0" height="57.5" fill="#cbccce"/>
<rect x="1746.0" y="17.5" width="297.0" height="62.5" fill="#70cff6"/>
<rect x="1746.0" y="80.0" width="297.0" height="4.0" fill="#e0f6fe"/>
<rect x="1746.0" y="84.0" width="297.0" height="60.0" fill="#70cff6"/>
<rect x="1746.0" y="144.0" width="297.0" height="4.0" fill="#e0f6fe"/>
<rect x="1746.0" y="148.0" width="297.0" height="60.0" fill="#70cff6"/>
<rect x="1746.0" y="212.0" width="297.0" height="60.0" fill="#cbccce"/>
<rect x="1746.0" y="276.0" width="297.0" height="60.0" fill="#cbccce"/>
<rect x="1746.0" y="340.0" width="297.0" height="57.5" fill="#cbccce"/>
<rect x="2043.0" y="17.5" width="300.0" height="62.5" fill="#70cff6"/>
<rect x="2043.0" y="80.0" width="300.0" height="4.0" fill="#e0f6fe"/>
<rect x="2043.0" y="84.0" width="300.0" height="60.0" fill="#70cff6"/>
<rect x="2043.0" y="148.0" width="300.0" height="60.0" fill="#cbccce"/>
<rect x="2043.0" y="212.0" width="300.0" height="60.0" fill="#cbccce"/>
<rect x="2043.0" y="276.0" width="300.0" height="60.0" fill="#cbccce"/>
<rect x="2043.0" y="340.0" width="300.0" height="57.5" fill="#cbccce"/>
<rect x="2343.0" y="17.5" width="227.5" height="62.5" fill="#cbccce"/>
<rect x="2343.0" y="84.0" width="227.5" height="60.0" fill="#cbccce"/>
<rect x="2343.0" y="148.0" width="227.5" height="60.0" fill="#cbccce"/>
<rect x="2343.0" y="212.0" width="227.5" height="60.0" fill="#cbccce"/>
<rect x="2343.0" y="276.0" width="227.5" height="60.0" fill="#cbccce"/>
<rect x="2343.0" y="340.0" width="227.5" height="57.5" fill="#cbccce"/>
<rect x="2575.5" y="16.5" width="5" height="382.0" fill="#2b2b2d"/>
<rect x="2585" y="17.5" width="16" height="62.5" fill="#cbccce"/>
<rect x="2585" y="84.0" width="16" height="60.0" fill="#cbccce"/>
<rect x="2585" y="148.0" width="16" height="60.0" fill="#cbccce"/>
<rect x="2585" y="212.0" width="16" height="60.0" fill="#cbccce"/>
<rect x="2585" y="276.0" width="16" height="60.0" fill="#cbccce"/>
<rect x="2585" y="340.0" width="16" height="57.5" fill="#cbccce"/>
<circle cx="2528.0" cy="178.5" r="13.5" fill="#ededee"/><circle cx="2528.0" cy="178.5" r="9" fill="#2b2b2d"/>
<circle cx="2528.0" cy="240.5" r="13.5" fill="#ededee"/><circle cx="2528.0" cy="240.5" r="9" fill="#2b2b2d"/>
<g transform="translate(287.0,16.0)"><g clip-path="url(#legtop)">
<use href="#leg" x="2.5" fill="#fff" stroke="#fff" stroke-width="29" clip-path="url(#h5)"/>
<use href="#leg" fill="none" stroke="#a3a5a8" stroke-width="18" clip-path="url(#r6)"/>
<use href="#leg" fill="none" stroke="#a3a5a8" stroke-width="18" clip-path="url(#r5)"/>
<use href="#leg" fill="none" stroke="#a3a5a8" stroke-width="18" clip-path="url(#r4)"/>
<use href="#leg" fill="none" stroke="#a3a5a8" stroke-width="18" clip-path="url(#r3)"/>
<use href="#leg" fill="none" stroke="#a3a5a8" stroke-width="18" clip-path="url(#r2)"/>
<use href="#leg" fill="none" stroke="#27aae1" stroke-width="19" clip-path="url(#r1)"/>
<use href="#leg" fill="none" stroke="#fff" stroke-width="7.5"/>
<use href="#leg" fill="#f5c9ae"/>
</g></g>
<g transform="translate(556.5,16.0)"><g clip-path="url(#legtop)">
<use href="#leg" x="2.5" fill="#fff" stroke="#fff" stroke-width="29" clip-path="url(#h5)"/>
<use href="#leg" fill="none" stroke="#a3a5a8" stroke-width="18" clip-path="url(#r6)"/>
<use href="#leg" fill="none" stroke="#a3a5a8" stroke-width="18" clip-path="url(#r5)"/>
<use href="#leg" fill="none" stroke="#a3a5a8" stroke-width="18" clip-path="url(#r4)"/>
<use href="#leg" fill="none" stroke="#a3a5a8" stroke-width="18" clip-path="url(#r3)"/>
<use href="#leg" fill="none" stroke="#27aae1" stroke-width="19" clip-path="url(#r2)"/>
<use href="#leg" fill="none" stroke="#27aae1" stroke-width="19" clip-path="url(#r1)"/>
<use href="#leg" fill="none" stroke="#fff" stroke-width="7.5"/>
<use href="#leg" fill="#f5c9ae"/>
</g></g>
<g transform="translate(823.5,16.0)"><g clip-path="url(#legtop)">
<use href="#leg" x="2.5" fill="#fff" stroke="#fff" stroke-width="29" clip-path="url(#h5)"/>
<use href="#leg" fill="none" stroke="#a3a5a8" stroke-width="18" clip-path="url(#r6)"/>
<use href="#leg" fill="none" stroke="#a3a5a8" stroke-width="18" clip-path="url(#r5)"/>
<use href="#leg" fill="none" stroke="#a3a5a8" stroke-width="18" clip-path="url(#r4)"/>
<use href="#leg" fill="none" stroke="#27aae1" stroke-width="19" clip-path="url(#r3)"/>
<use href="#leg" fill="none" stroke="#27aae1" stroke-width="19" clip-path="url(#r2)"/>
<use href="#leg" fill="none" stroke="#27aae1" stroke-width="19" clip-path="url(#r1)"/>
<use href="#leg" fill="none" stroke="#fff" stroke-width="7.5"/>
<use href="#leg" fill="#f5c9ae"/>
</g></g>
<g transform="translate(1124.0,16.0)"><g clip-path="url(#legtop)">
<use href="#leg" x="2.5" fill="#fff" stroke="#fff" stroke-width="29" clip-path="url(#h5)"/>
<use href="#leg" fill="none" stroke="#a3a5a8" stroke-width="18" clip-path="url(#r6)"/>
<use href="#leg" fill="none" stroke="#a3a5a8" stroke-width="18" clip-path="url(#r5)"/>
<use href="#leg" fill="none" stroke="#27aae1" stroke-width="19" clip-path="url(#r4)"/>
<use href="#leg" fill="none" stroke="#27aae1" stroke-width="19" clip-path="url(#r3)"/>
<use href="#leg" fill="none" stroke="#27aae1" stroke-width="19" clip-path="url(#r2)"/>
<use href="#leg" fill="none" stroke="#a3a5a8" stroke-width="18" clip-path="url(#r1)"/>
<use href="#leg" fill="none" stroke="#fff" stroke-width="7.5"/>
<use href="#leg" fill="#f5c9ae"/>
</g></g>
<g transform="translate(1425.0,16.0)"><g clip-path="url(#legtop)">
<use href="#leg" x="2.5" fill="#fff" stroke="#fff" stroke-width="29" clip-path="url(#h5)"/>
<use href="#leg" fill="none" stroke="#a3a5a8" stroke-width="18" clip-path="url(#r6)"/>
<use href="#leg" fill="none" stroke="#27aae1" stroke-width="19" clip-path="url(#r5)"/>
<use href="#leg" fill="none" stroke="#27aae1" stroke-width="19" clip-path="url(#r4)"/>
<use href="#leg" fill="none" stroke="#27aae1" stroke-width="19" clip-path="url(#r3)"/>
<use href="#leg" fill="none" stroke="#a3a5a8" stroke-width="18" clip-path="url(#r2)"/>
<use href="#leg" fill="none" stroke="#a3a5a8" stroke-width="18" clip-path="url(#r1)"/>
<use href="#leg" fill="none" stroke="#fff" stroke-width="7.5"/>
<use href="#leg" fill="#f5c9ae"/>
</g></g>
<g transform="translate(1716.0,16.0)"><g clip-path="url(#legtop)">
<use href="#leg" x="2.5" fill="#fff" stroke="#fff" stroke-width="29" clip-path="url(#h5)"/>
<use href="#leg" fill="none" stroke="#27aae1" stroke-width="19" clip-path="url(#r6)"/>
<use href="#leg" fill="none" stroke="#27aae1" stroke-width="19" clip-path="url(#r5)"/>
<use href="#leg" fill="none" stroke="#27aae1" stroke-width="19" clip-path="url(#r4)"/>
<use href="#leg" fill="none" stroke="#a3a5a8" stroke-width="18" clip-path="url(#r3)"/>
<use href="#leg" fill="none" stroke="#a3a5a8" stroke-width="18" clip-path="url(#r2)"/>
<use href="#leg" fill="none" stroke="#a3a5a8" stroke-width="18" clip-path="url(#r1)"/>
<use href="#leg" fill="none" stroke="#fff" stroke-width="7.5"/>
<use href="#leg" fill="#f5c9ae"/>
</g></g>
<g transform="translate(2013.0,16.0)"><g clip-path="url(#legtop)">
<use href="#leg" x="2.5" fill="#fff" stroke="#fff" stroke-width="29" clip-path="url(#h5)"/>
<use href="#leg" fill="none" stroke="#27aae1" stroke-width="19" clip-path="url(#r6)"/>
<use href="#leg" fill="none" stroke="#27aae1" stroke-width="19" clip-path="url(#r5)"/>
<use href="#leg" fill="none" stroke="#a3a5a8" stroke-width="18" clip-path="url(#r4)"/>
<use href="#leg" fill="none" stroke="#a3a5a8" stroke-width="18" clip-path="url(#r3)"/>
<use href="#leg" fill="none" stroke="#a3a5a8" stroke-width="18" clip-path="url(#r2)"/>
<use href="#leg" fill="none" stroke="#a3a5a8" stroke-width="18" clip-path="url(#r1)"/>
<use href="#leg" fill="none" stroke="#fff" stroke-width="7.5"/>
<use href="#leg" fill="#f5c9ae"/>
</g></g>
<g transform="translate(2313.0,16.0)"><g clip-path="url(#legtop)">
<use href="#leg" x="2.5" fill="#fff" stroke="#fff" stroke-width="29" clip-path="url(#h5)"/>
<use href="#leg" fill="none" stroke="#8f9194" stroke-width="11" clip-path="url(#r6)"/>
<use href="#leg" fill="none" stroke="#8f9194" stroke-width="11" clip-path="url(#r5)"/>
<use href="#leg" fill="none" stroke="#8f9194" stroke-width="11" clip-path="url(#r4)"/>
<use href="#leg" fill="none" stroke="#8f9194" stroke-width="11" clip-path="url(#r3)"/>
<use href="#leg" fill="none" stroke="#8f9194" stroke-width="11" clip-path="url(#r2)"/>
<use href="#leg" fill="none" stroke="#8f9194" stroke-width="11" clip-path="url(#r1)"/>
<use href="#leg" fill="none" stroke="#fff" stroke-width="4.5"/>
<use href="#leg" fill="#f5c9ae"/>
</g></g>
</g></g></g>
</g>
<g filter="url(#soft2)">
<path d="M1189.0 668.0 Q1227.1 701.0 1252.5 701.0 Q1279.9 701.0 1321.0 668.0" fill="none" stroke="#808080" stroke-width="4" clip-path="url(#pagec)"/>
<circle cx="1252.5" cy="701.0" r="16" fill="#16a9ec"/>
<path d="M1327.0 668.0 Q1373.6 701.0 1404.7 701.0 Q1432.0 701.0 1473.0 668.0" fill="none" stroke="#808080" stroke-width="4" clip-path="url(#pagec)"/>
<circle cx="1404.7" cy="701.0" r="16" fill="#16a9ec"/>
<path d="M1479.0 668.0 Q1528.7 701.0 1561.8 701.0 Q1590.9 701.0 1634.6 668.0" fill="none" stroke="#808080" stroke-width="4" clip-path="url(#pagec)"/>
<circle cx="1561.8" cy="701.0" r="16" fill="#16a9ec"/>
<path d="M1640.6 668.0 Q1683.4 701.0 1712.0 701.0 Q1739.4 701.0 1780.5 668.0" fill="none" stroke="#808080" stroke-width="4" clip-path="url(#pagec)"/>
<circle cx="1712.0" cy="701.0" r="16" fill="#16a9ec"/>
<path d="M1786.5 668.0 Q1828.2 701.0 1856.0 701.0 Q1882.8 701.0 1923.0 668.0" fill="none" stroke="#808080" stroke-width="4" clip-path="url(#pagec)"/>
<circle cx="1856.0" cy="701.0" r="16" fill="#16a9ec"/>
<path d="M1929.0 668.0 Q1970.4 701.0 1998.0 701.0 Q2025.2 701.0 2066.0 668.0" fill="none" stroke="#808080" stroke-width="4" clip-path="url(#pagec)"/>
<circle cx="1998.0" cy="701.0" r="16" fill="#16a9ec"/>
<path d="M2072.0 668.0 Q2117.0 701.0 2147.0 701.0 Q2173.0 701.0 2212.0 668.0" fill="none" stroke="#808080" stroke-width="4" clip-path="url(#pagec)"/>
<circle cx="2147.0" cy="701.0" r="16" fill="#45bdf0"/>
<path d="M2218.0 668.0 Q2260.0 701.0 2288.0 701.0 Q2316.8 701.0 2360.0 668.0" fill="none" stroke="#808080" stroke-width="4" clip-path="url(#pagec)"/>
<circle cx="2288.0" cy="701.0" r="16" fill="#808080"/>
<path d="M2366.0 668.0 Q2406.8 701.0 2434.0 701.0 Q2461.5 701.0 2502.7 668.0" fill="none" stroke="#808080" stroke-width="4" clip-path="url(#pagec)"/>
<circle cx="2434.0" cy="701.0" r="16" fill="#16a9ec"/>
<path d="M2508.7 668.0 Q2549.1 701.0 2576.0 701.0 Q2603.8 701.0 2645.5 668.0" fill="none" stroke="#808080" stroke-width="4" clip-path="url(#pagec)"/>
<circle cx="2576.0" cy="701.0" r="16" fill="#16a9ec"/>
<path d="M2651.5 668.0 Q2693.8 701.0 2722.0 701.0 Q2752.3 701.0 2797.7 668.0" fill="none" stroke="#808080" stroke-width="4" clip-path="url(#pagec)"/>
<circle cx="2722.0" cy="701.0" r="16" fill="#16a9ec"/>
<path d="M2803.7 668.0 Q2840.3 701.0 2864.7 701.0 Q2893.6 701.0 2937.0 668.0" fill="none" stroke="#808080" stroke-width="4" clip-path="url(#pagec)"/>
<circle cx="2864.7" cy="701.0" r="16" fill="#16a9ec"/>
<path d="M2943.0 668.0 Q2981.4 701.0 3007.0 701.0 Q3036.2 701.0 3080.0 668.0" fill="none" stroke="#808080" stroke-width="4" clip-path="url(#pagec)"/>
<circle cx="3007.0" cy="701.0" r="16" fill="#16a9ec"/>
<path d="M3086.0 668.0 Q3124.4 701.0 3150.0 701.0 Q3179.2 701.0 3223.0 668.0" fill="none" stroke="#808080" stroke-width="4" clip-path="url(#pagec)"/>
<circle cx="3150.0" cy="701.0" r="16" fill="#16a9ec"/>
<path d="M3229.0 668.0 Q3270.2 701.0 3297.6 701.0 Q3323.8 701.0 3363.0 668.0" fill="none" stroke="#808080" stroke-width="4" clip-path="url(#pagec)"/>
<circle cx="3297.6" cy="701.0" r="16" fill="#45bdf0"/>
<path d="M3369.0 668.0 Q3411.0 701.0 3439.0 701.0 Q3467.0 701.0 3509.0 668.0" fill="none" stroke="#808080" stroke-width="4" clip-path="url(#pagec)"/>
<circle cx="3439.0" cy="701.0" r="16" fill="#808080"/>
</g>
<g filter="url(#soft2)">
<path d="M1201.0 1479.0 Q1300.6 1511.4 1367.0 1511.4 Q1428.0 1511.4 1519.6 1479.0" fill="none" stroke="#808080" stroke-width="4" clip-path="url(#pagec)"/>
<circle cx="1367.0" cy="1511.4" r="16" fill="#16a9ec"/>
<path d="M1533.7 1479.0 Q1633.3 1511.4 1699.7 1511.4 Q1760.7 1511.4 1852.3 1479.0" fill="none" stroke="#808080" stroke-width="4" clip-path="url(#pagec)"/>
<circle cx="1699.7" cy="1511.4" r="16" fill="#16a9ec"/>
<path d="M1866.4 1479.0 Q1966.0 1511.4 2032.4 1511.4 Q2093.4 1511.4 2185.0 1479.0" fill="none" stroke="#808080" stroke-width="4" clip-path="url(#pagec)"/>
<circle cx="2032.4" cy="1511.4" r="16" fill="#16a9ec"/>
<path d="M2199.1 1479.0 Q2298.7 1511.4 2365.1 1511.4 Q2426.1 1511.4 2517.7 1479.0" fill="none" stroke="#808080" stroke-width="4" clip-path="url(#pagec)"/>
<circle cx="2365.1" cy="1511.4" r="16" fill="#16a9ec"/>
<path d="M2531.8 1479.0 Q2631.4 1511.4 2697.8 1511.4 Q2758.8 1511.4 2850.4 1479.0" fill="none" stroke="#808080" stroke-width="4" clip-path="url(#pagec)"/>
<circle cx="2697.8" cy="1511.4" r="16" fill="#16a9ec"/>
<path d="M2864.5 1479.0 Q2964.1 1511.4 3030.5 1511.4 Q3091.5 1511.4 3183.1 1479.0" fill="none" stroke="#808080" stroke-width="4" clip-path="url(#pagec)"/>
<circle cx="3030.5" cy="1511.4" r="16" fill="#16a9ec"/>
<path d="M3197.2 1479.0 Q3296.8 1511.4 3363.2 1511.4 Q3424.2 1511.4 3515.8 1479.0" fill="none" stroke="#808080" stroke-width="4" clip-path="url(#pagec)"/>
<circle cx="3363.2" cy="1511.4" r="16" fill="#16a9ec"/>
</g>
<g filter="url(#soft2)">
<path d="M1262.6 2251.0 Q1448.1 2283.5 1571.8 2283.5 Q1694.3 2283.5 1878.0 2251.0" fill="none" stroke="#808080" stroke-width="4" clip-path="url(#pagec3)"/>
<circle cx="1571.8" cy="2283.5" r="16" fill="#16a9ec"/>
<path d="M1997.3 2251.0 Q2181.7 2283.5 2304.7 2283.5 Q2428.4 2283.5 2614.0 2251.0" fill="none" stroke="#808080" stroke-width="4" clip-path="url(#pagec3)"/>
<circle cx="2304.7" cy="2283.5" r="16" fill="#16a9ec"/>
<path d="M2787.3 2251.0 Q2971.7 2283.5 3094.7 2283.5 Q3217.6 2283.5 3402.0 2251.0" fill="none" stroke="#808080" stroke-width="4" clip-path="url(#pagec3)"/>
<circle cx="3094.7" cy="2283.5" r="16" fill="#16a9ec"/>
</g>
<g filter="url(#soft2)">
<path d="M1201.0 3103.5 Q1283.2 3133.5 1338.0 3133.5 Q1393.2 3133.5 1476.0 3103.5" fill="none" stroke="#808080" stroke-width="4" clip-path="url(#pagec)"/>
<circle cx="1338.0" cy="3133.5" r="16" fill="#16a9ec"/>
<path d="M1492.8 3103.5 Q1575.0 3133.5 1629.8 3133.5 Q1685.0 3133.5 1767.8 3103.5" fill="none" stroke="#808080" stroke-width="4" clip-path="url(#pagec)"/>
<circle cx="1629.8" cy="3133.5" r="16" fill="#16a9ec"/>
<path d="M1784.6 3103.5 Q1866.8 3133.5 1921.6 3133.5 Q1976.8 3133.5 2059.6 3103.5" fill="none" stroke="#808080" stroke-width="4" clip-path="url(#pagec)"/>
<circle cx="1921.6" cy="3133.5" r="16" fill="#16a9ec"/>
<path d="M2076.4 3103.5 Q2158.6 3133.5 2213.4 3133.5 Q2268.6 3133.5 2351.4 3103.5" fill="none" stroke="#808080" stroke-width="4" clip-path="url(#pagec)"/>
<circle cx="2213.4" cy="3133.5" r="16" fill="#16a9ec"/>
<path d="M2368.2 3103.5 Q2450.4 3133.5 2505.2 3133.5 Q2560.4 3133.5 2643.2 3103.5" fill="none" stroke="#808080" stroke-width="4" clip-path="url(#pagec)"/>
<circle cx="2505.2" cy="3133.5" r="16" fill="#16a9ec"/>
<path d="M2660.0 3103.5 Q2742.2 3133.5 2797.0 3133.5 Q2852.2 3133.5 2935.0 3103.5" fill="none" stroke="#808080" stroke-width="4" clip-path="url(#pagec)"/>
<circle cx="2797.0" cy="3133.5" r="16" fill="#16a9ec"/>
<path d="M2951.8 3103.5 Q3034.0 3133.5 3088.8 3133.5 Q3144.0 3133.5 3226.8 3103.5" fill="none" stroke="#808080" stroke-width="4" clip-path="url(#pagec)"/>
<circle cx="3088.8" cy="3133.5" r="16" fill="#16a9ec"/>
<path d="M3243.6 3103.5 Q3325.8 3133.5 3380.6 3133.5 Q3435.8 3133.5 3518.6 3103.5" fill="none" stroke="#808080" stroke-width="4" clip-path="url(#pagec)"/>
<circle cx="3380.6" cy="3133.5" r="16" fill="#16a9ec"/>
</g>
<g filter="url(#soft2)">
<path d="M1201.0 3772.0 Q1300.8 3802.7 1367.4 3802.7 Q1409.8 3802.7 1473.5 3772.0" fill="none" stroke="#808080" stroke-width="4" clip-path="url(#pagec)"/>
<circle cx="1367.4" cy="3802.7" r="16" fill="#16a9ec"/>
<path d="M1488.3 3772.0 Q1570.2 3802.7 1624.8 3802.7 Q1679.2 3802.7 1760.8 3772.0" fill="none" stroke="#808080" stroke-width="4" clip-path="url(#pagec)"/>
<circle cx="1624.8" cy="3802.7" r="16" fill="#16a9ec"/>
<path d="M1775.6 3772.0 Q1857.5 3802.7 1912.1 3802.7 Q1966.5 3802.7 2048.1 3772.0" fill="none" stroke="#808080" stroke-width="4" clip-path="url(#pagec)"/>
<circle cx="1912.1" cy="3802.7" r="16" fill="#16a9ec"/>
<path d="M2062.9 3772.0 Q2144.8 3802.7 2199.4 3802.7 Q2253.8 3802.7 2335.4 3772.0" fill="none" stroke="#808080" stroke-width="4" clip-path="url(#pagec)"/>
<circle cx="2199.4" cy="3802.7" r="16" fill="#16a9ec"/>
<path d="M2350.2 3772.0 Q2432.1 3802.7 2486.7 3802.7 Q2541.1 3802.7 2622.7 3772.0" fill="none" stroke="#808080" stroke-width="4" clip-path="url(#pagec)"/>
<circle cx="2486.7" cy="3802.7" r="16" fill="#16a9ec"/>
<path d="M2637.5 3772.0 Q2721.8 3802.7 2778.0 3802.7 Q2831.2 3802.7 2911.0 3772.0" fill="none" stroke="#808080" stroke-width="4" clip-path="url(#pagec)"/>
<circle cx="2778.0" cy="3802.7" r="16" fill="#16a9ec"/>
<path d="M2925.0 3772.0 Q3014.4 3802.7 3074.0 3802.7 Q3124.2 3802.7 3199.4 3772.0" fill="none" stroke="#808080" stroke-width="4" clip-path="url(#pagec)"/>
<circle cx="3074.0" cy="3802.7" r="16" fill="#16a9ec"/>
<path d="M3230.5 3772.0 Q3320.0 3802.7 3379.6 3802.7 Q3439.0 3802.7 3528.0 3772.0" fill="none" stroke="#808080" stroke-width="4" clip-path="url(#pagec)"/>
<circle cx="3379.6" cy="3802.7" r="16" fill="#16a9ec"/>
</g>
<path d="M1252.5 712.0 L1252.5 798.0 L1450.0 798.0" fill="none" stroke="#d2d2d2" stroke-width="6.5"/>
<text class="lb" x="1453.0" y="817.0" text-anchor="start">INFLATION /HOLDING</text>
<path d="M2147.0 712.0 L2147.0 792.0 L2342.0 792.0" fill="none" stroke="#d2d2d2" stroke-width="6.5"/>
<text class="lb" x="2343.0" y="812.0" text-anchor="start">HOLDING</text>
<path d="M2288.0 700.0 L2288.0 768.0 L2486.0 768.0" fill="none" stroke="#d2d2d2" stroke-width="6.5"/>
<text class="lb" x="2490.0" y="771.0" text-anchor="start">DEFLATION</text>
<path d="M1367.0 1522.0 L1367.0 1609.5 L1564.0 1609.5" fill="none" stroke="#d2d2d2" stroke-width="6.5"/>
<text class="lb" x="1565.5" y="1626.0" text-anchor="start">INFLATION</text>
<path d="M3030.5 1522.0 L3030.5 1607.0 L3230.0 1607.0" fill="none" stroke="#d2d2d2" stroke-width="6.5"/>
<text class="lb" x="3232.0" y="1627.0" text-anchor="start">HOLDING</text>
<path d="M3363.2 1511.0 L3363.2 1583.0 L3562.0 1583.0" fill="none" stroke="#d2d2d2" stroke-width="6.5"/>
<text class="lb" x="3569.0" y="1585.0" text-anchor="start">DEFLATION</text>
<path d="M1571.8 2296.0 L1571.8 2379.5 L1770.0 2379.5" fill="none" stroke="#d2d2d2" stroke-width="6.5"/>
<text class="lb" x="1771.0" y="2393.0" text-anchor="start">INFLATION</text>
<path d="M2304.7 2296.0 L2304.7 2374.0 L2500.0 2374.0" fill="none" stroke="#d2d2d2" stroke-width="6.5"/>
<text class="lb" x="2501.0" y="2393.0" text-anchor="start">HOLDING</text>
<path d="M3094.7 2296.0 L3094.7 2374.0 L3292.0 2374.0" fill="none" stroke="#d2d2d2" stroke-width="6.5"/>
<text class="lb" x="3294.0" y="2393.0" text-anchor="start">DEFLATION</text>
<path d="M1338.0 3146.0 L1338.0 3231.0 L1537.0 3231.0" fill="none" stroke="#d2d2d2" stroke-width="6.5"/>
<text class="lb" x="1538.0" y="3250.0" text-anchor="start">INFLATION /HOLDING</text>
<path d="M3088.8 3135.0 L3088.8 3208.0 L2892.0 3210.0" fill="none" stroke="#d2d2d2" stroke-width="6.5"/>
<text class="lb" x="2702.0" y="3219.0" text-anchor="start">HOLDING</text>
<path d="M3380.6 3146.0 L3380.6 3228.0 L3184.0 3232.0" fill="none" stroke="#d2d2d2" stroke-width="6.5"/>
<text class="lb" x="2954.0" y="3262.0" text-anchor="start">DEFLATION</text>
<path d="M1367.4 3812.0 L1367.4 3894.0 L1566.0 3894.0" fill="none" stroke="#d2d2d2" stroke-width="6.5"/>
<text class="lb" x="1567.0" y="3910.0" text-anchor="start">INFLATION /HOLDING/RELEASING</text>
<path d="M3074.0 3812.0 L3074.0 3892.0 L2876.0 3894.0" fill="none" stroke="#d2d2d2" stroke-width="6.5"/>
<text class="lb" x="2687.0" y="3910.0" text-anchor="start">HOLDING</text>
<path d="M3379.6 3812.0 L3379.6 3913.0 L3184.0 3916.0" fill="none" stroke="#d2d2d2" stroke-width="6.5"/>
<text class="lb" x="2954.0" y="3935.0" text-anchor="start">DEFLATION</text>
</svg></body></html>
